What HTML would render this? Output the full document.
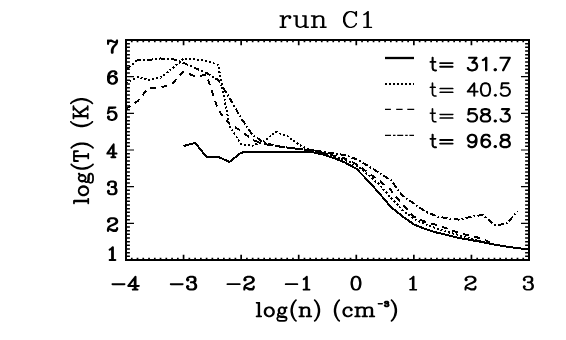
<!DOCTYPE html>
<html><head><meta charset="utf-8"><title>run C1</title>
<style>html,body{margin:0;padding:0;background:#fff;font-family:"Liberation Sans",sans-serif;}svg{display:block}</style>
</head><body>
<svg width="566" height="340" viewBox="0 0 566 340">
<rect x="0" y="0" width="566" height="340" fill="#fff"/>
<path d="M126.00 260.00V254.80M126.00 40.00V45.20M131.76 260.00V257.70M131.76 40.00V42.30M137.51 260.00V257.70M137.51 40.00V42.30M143.27 260.00V257.70M143.27 40.00V42.30M149.03 260.00V257.70M149.03 40.00V42.30M154.79 260.00V257.70M154.79 40.00V42.30M160.54 260.00V257.70M160.54 40.00V42.30M166.30 260.00V257.70M166.30 40.00V42.30M172.06 260.00V257.70M172.06 40.00V42.30M177.81 260.00V257.70M177.81 40.00V42.30M183.57 260.00V254.80M183.57 40.00V45.20M189.33 260.00V257.70M189.33 40.00V42.30M195.09 260.00V257.70M195.09 40.00V42.30M200.84 260.00V257.70M200.84 40.00V42.30M206.60 260.00V257.70M206.60 40.00V42.30M212.36 260.00V257.70M212.36 40.00V42.30M218.11 260.00V257.70M218.11 40.00V42.30M223.87 260.00V257.70M223.87 40.00V42.30M229.63 260.00V257.70M229.63 40.00V42.30M235.39 260.00V257.70M235.39 40.00V42.30M241.14 260.00V254.80M241.14 40.00V45.20M246.90 260.00V257.70M246.90 40.00V42.30M252.66 260.00V257.70M252.66 40.00V42.30M258.41 260.00V257.70M258.41 40.00V42.30M264.17 260.00V257.70M264.17 40.00V42.30M269.93 260.00V257.70M269.93 40.00V42.30M275.69 260.00V257.70M275.69 40.00V42.30M281.44 260.00V257.70M281.44 40.00V42.30M287.20 260.00V257.70M287.20 40.00V42.30M292.96 260.00V257.70M292.96 40.00V42.30M298.71 260.00V254.80M298.71 40.00V45.20M304.47 260.00V257.70M304.47 40.00V42.30M310.23 260.00V257.70M310.23 40.00V42.30M315.99 260.00V257.70M315.99 40.00V42.30M321.74 260.00V257.70M321.74 40.00V42.30M327.50 260.00V257.70M327.50 40.00V42.30M333.26 260.00V257.70M333.26 40.00V42.30M339.01 260.00V257.70M339.01 40.00V42.30M344.77 260.00V257.70M344.77 40.00V42.30M350.53 260.00V257.70M350.53 40.00V42.30M356.29 260.00V254.80M356.29 40.00V45.20M362.04 260.00V257.70M362.04 40.00V42.30M367.80 260.00V257.70M367.80 40.00V42.30M373.56 260.00V257.70M373.56 40.00V42.30M379.31 260.00V257.70M379.31 40.00V42.30M385.07 260.00V257.70M385.07 40.00V42.30M390.83 260.00V257.70M390.83 40.00V42.30M396.59 260.00V257.70M396.59 40.00V42.30M402.34 260.00V257.70M402.34 40.00V42.30M408.10 260.00V257.70M408.10 40.00V42.30M413.86 260.00V254.80M413.86 40.00V45.20M419.61 260.00V257.70M419.61 40.00V42.30M425.37 260.00V257.70M425.37 40.00V42.30M431.13 260.00V257.70M431.13 40.00V42.30M436.89 260.00V257.70M436.89 40.00V42.30M442.64 260.00V257.70M442.64 40.00V42.30M448.40 260.00V257.70M448.40 40.00V42.30M454.16 260.00V257.70M454.16 40.00V42.30M459.91 260.00V257.70M459.91 40.00V42.30M465.67 260.00V257.70M465.67 40.00V42.30M471.43 260.00V254.80M471.43 40.00V45.20M477.19 260.00V257.70M477.19 40.00V42.30M482.94 260.00V257.70M482.94 40.00V42.30M488.70 260.00V257.70M488.70 40.00V42.30M494.46 260.00V257.70M494.46 40.00V42.30M500.21 260.00V257.70M500.21 40.00V42.30M505.97 260.00V257.70M505.97 40.00V42.30M511.73 260.00V257.70M511.73 40.00V42.30M517.49 260.00V257.70M517.49 40.00V42.30M523.24 260.00V257.70M523.24 40.00V42.30M529.00 260.00V254.80M529.00 40.00V45.20" stroke="#000" stroke-width="1.7" fill="none"/>
<path d="M126.00 256.33H129.90M529.00 256.33H525.10M126.00 252.67H129.90M529.00 252.67H525.10M126.00 249.00H129.90M529.00 249.00H525.10M126.00 245.33H129.90M529.00 245.33H525.10M126.00 241.67H129.90M529.00 241.67H525.10M126.00 238.00H129.90M529.00 238.00H525.10M126.00 234.33H129.90M529.00 234.33H525.10M126.00 230.67H129.90M529.00 230.67H525.10M126.00 227.00H129.90M529.00 227.00H525.10M126.00 219.67H129.90M529.00 219.67H525.10M126.00 216.00H129.90M529.00 216.00H525.10M126.00 212.33H129.90M529.00 212.33H525.10M126.00 208.67H129.90M529.00 208.67H525.10M126.00 205.00H129.90M529.00 205.00H525.10M126.00 201.33H129.90M529.00 201.33H525.10M126.00 197.67H129.90M529.00 197.67H525.10M126.00 194.00H129.90M529.00 194.00H525.10M126.00 190.33H129.90M529.00 190.33H525.10M126.00 183.00H129.90M529.00 183.00H525.10M126.00 179.33H129.90M529.00 179.33H525.10M126.00 175.67H129.90M529.00 175.67H525.10M126.00 172.00H129.90M529.00 172.00H525.10M126.00 168.33H129.90M529.00 168.33H525.10M126.00 164.67H129.90M529.00 164.67H525.10M126.00 161.00H129.90M529.00 161.00H525.10M126.00 157.33H129.90M529.00 157.33H525.10M126.00 153.67H129.90M529.00 153.67H525.10M126.00 146.33H129.90M529.00 146.33H525.10M126.00 142.67H129.90M529.00 142.67H525.10M126.00 139.00H129.90M529.00 139.00H525.10M126.00 135.33H129.90M529.00 135.33H525.10M126.00 131.67H129.90M529.00 131.67H525.10M126.00 128.00H129.90M529.00 128.00H525.10M126.00 124.33H129.90M529.00 124.33H525.10M126.00 120.67H129.90M529.00 120.67H525.10M126.00 117.00H129.90M529.00 117.00H525.10M126.00 109.67H129.90M529.00 109.67H525.10M126.00 106.00H129.90M529.00 106.00H525.10M126.00 102.33H129.90M529.00 102.33H525.10M126.00 98.67H129.90M529.00 98.67H525.10M126.00 95.00H129.90M529.00 95.00H525.10M126.00 91.33H129.90M529.00 91.33H525.10M126.00 87.67H129.90M529.00 87.67H525.10M126.00 84.00H129.90M529.00 84.00H525.10M126.00 80.33H129.90M529.00 80.33H525.10M126.00 73.00H129.90M529.00 73.00H525.10M126.00 69.33H129.90M529.00 69.33H525.10M126.00 65.67H129.90M529.00 65.67H525.10M126.00 62.00H129.90M529.00 62.00H525.10M126.00 58.33H129.90M529.00 58.33H525.10M126.00 54.67H129.90M529.00 54.67H525.10M126.00 51.00H129.90M529.00 51.00H525.10M126.00 47.33H129.90M529.00 47.33H525.10M126.00 43.67H129.90M529.00 43.67H525.10" stroke="#000" stroke-width="1.45" fill="none"/>
<path d="M126.00 260.00H134.00M529.00 260.00H521.00M126.00 223.33H134.00M529.00 223.33H521.00M126.00 186.67H134.00M529.00 186.67H521.00M126.00 150.00H134.00M529.00 150.00H521.00M126.00 113.33H134.00M529.00 113.33H521.00M126.00 76.67H134.00M529.00 76.67H521.00M126.00 40.00H134.00M529.00 40.00H521.00" stroke="#000" stroke-width="1.1" fill="none"/>
<rect x="126.00" y="40.00" width="403.00" height="220.00" fill="none" stroke="#000" stroke-width="2.00"/>
<path d="M183.6 146.0L195.1 142.9L206.6 156.9L218.1 156.9L229.6 161.9L241.1 152.6L252.7 151.8L264.2 151.7L275.7 151.7L287.2 151.7L298.7 151.7L310.2 151.7L321.7 154.2L333.3 157.8L344.8 162.5L356.3 168.6L367.8 180.5L379.3 193.3L390.8 206.9L402.3 216.2L413.9 224.4L425.4 229.1L436.9 232.6L448.4 235.4L459.9 238.2L471.4 240.1L482.9 242.3L494.5 244.6L506.0 246.5L517.5 248.1L529.0 249.6" fill="none" stroke="#000" stroke-width="2.00" stroke-linejoin="round" shape-rendering="crispEdges"/>
<path d="M126.0 83.0L137.5 77.2L149.0 79.9L160.5 77.5L172.1 68.8L183.6 58.6L195.1 59.3L206.6 60.9L218.1 64.8L229.6 126.6L241.1 144.1L252.7 145.6L264.2 141.0L275.7 131.9L287.2 136.0L298.7 144.6L310.2 150.2L321.7 152.8L333.3 156.2L344.8 159.8L356.3 165.2L367.8 174.5L379.3 184.5L390.8 197.7L402.3 209.9L413.9 218.9L425.4 224.4L436.9 228.5L448.4 232.2L459.9 235.4L471.4 238.7L482.9 241.7L494.5 244.6" fill="none" stroke="#000" stroke-width="2.00" stroke-linejoin="round" shape-rendering="crispEdges" stroke-dasharray="2 2"/>
<path d="M126.0 109.0L137.5 101.2L149.0 87.5L160.5 87.7L172.1 83.7L183.6 71.6L195.1 76.4L206.6 75.0L218.1 110.0L229.6 124.2L241.1 130.8L252.7 140.0L264.2 144.0L275.7 146.0L287.2 147.5L298.7 149.0L310.2 150.3L321.7 152.5L333.3 155.6L344.8 158.6L356.3 164.0L367.8 172.5L379.3 180.6L390.8 190.0L402.3 204.5L413.9 216.6L425.4 222.0L436.9 225.0L448.4 229.0L459.9 233.3L471.4 235.9L482.9 239.0L494.5 244.5" fill="none" stroke="#000" stroke-width="2.00" stroke-linejoin="round" shape-rendering="crispEdges" stroke-dasharray="6 5.3" stroke-dashoffset="0.8"/>
<path d="M126.0 70.0L137.5 60.1L149.0 59.9L160.5 58.5L172.1 58.9L183.6 63.0L195.1 68.0L206.6 73.1L218.1 79.9L229.6 98.0L241.1 118.2L252.7 135.0L264.2 142.6L275.7 146.1L287.2 147.6L298.7 149.0L310.2 150.0L321.7 151.6L333.3 153.3L344.8 155.1L356.3 159.2L367.8 165.7L379.3 173.0L390.8 180.2L402.3 195.4L413.9 203.5L425.4 211.6L436.9 216.4L448.4 218.5L459.9 219.7L471.4 216.7L482.9 214.9L494.5 225.0L506.0 224.1L517.5 211.5" fill="none" stroke="#000" stroke-width="2.00" stroke-linejoin="round" shape-rendering="crispEdges" stroke-dasharray="6 2.2 1.8 2.2"/>
<path d="M385.0 58H414.0" stroke="#000" stroke-width="2.3"/>
<path d="M385.0 84H414.0" stroke="#000" stroke-width="2" stroke-dasharray="2 2"/>
<path d="M385 109.4H390.9M396.2 109.4H402.6M407.3 109.4H414.2" stroke="#000" stroke-width="1.3"/>
<path d="M385.0 135.4H414.0" stroke="#000" stroke-width="1.4" stroke-dasharray="6 2 2.5 1.7"/>
<path d="M310.89 15.54L310.75 15.94L310.89 16.35L311.09 16.55L311.50 16.69L313.13 16.69L313.20 16.75L313.20 26.35L313.13 26.41L311.50 26.41L311.09 26.55L310.89 26.75L310.75 27.16L310.89 27.56L311.09 27.76L311.50 27.90L317.14 27.90L317.55 27.76L317.76 27.56L317.89 27.16L317.76 26.75L317.55 26.55L317.14 26.41L315.58 26.41L315.51 26.35L315.51 18.71L316.74 17.43L318.91 16.69L320.20 16.69L321.29 17.23L321.50 17.43L322.04 18.51L322.04 26.35L321.97 26.41L320.41 26.41L320.00 26.55L319.80 26.75L319.66 27.16L319.80 27.56L320.00 27.76L320.41 27.90L326.05 27.90L326.46 27.76L326.66 27.56L326.80 27.16L326.66 26.75L326.46 26.55L326.05 26.41L324.42 26.41L324.35 26.35L324.35 18.38L324.28 18.31L324.28 17.97L323.54 16.48L323.20 16.15L322.99 16.01L320.75 15.27L320.48 15.27L320.41 15.20L318.78 15.20L318.71 15.27L318.44 15.27L316.19 16.01L315.92 16.15L315.58 16.48L315.51 16.42L315.51 15.94L315.38 15.54L315.17 15.34L314.76 15.20L311.50 15.20L311.09 15.34ZM293.21 15.54L293.07 15.94L293.21 16.35L293.41 16.55L293.82 16.69L295.38 16.69L295.45 16.75L295.45 24.72L295.52 24.79L295.52 25.00L296.27 26.41L296.33 26.68L296.81 27.09L299.05 27.83L299.39 27.83L299.46 27.90L301.09 27.90L301.16 27.83L301.43 27.83L303.54 27.09L303.75 27.09L303.81 26.95L304.02 26.89L304.29 26.62L304.36 26.68L304.36 27.16L304.49 27.56L304.70 27.76L305.11 27.90L308.30 27.90L308.71 27.76L308.91 27.56L309.05 27.16L308.91 26.75L308.71 26.55L308.30 26.41L306.74 26.41L306.67 26.35L306.67 15.94L306.53 15.54L306.33 15.34L305.92 15.20L302.66 15.20L302.25 15.34L301.98 15.67L301.98 15.88L301.91 15.94L301.98 16.01L301.98 16.21L302.05 16.35L302.39 16.62L302.59 16.62L302.66 16.69L304.29 16.69L304.36 16.75L304.36 24.45L303.00 25.74L301.03 26.41L299.60 26.41L298.51 25.87L298.31 25.67L297.76 24.59L297.76 15.94L297.63 15.54L297.42 15.34L297.01 15.20L293.82 15.20L293.41 15.34ZM279.88 15.27L279.54 15.54L279.40 15.94L279.54 16.35L279.74 16.55L280.15 16.69L281.71 16.69L281.78 16.75L281.78 26.35L281.71 26.41L280.15 26.41L280.08 26.48L279.88 26.48L279.74 26.55L279.47 26.89L279.47 27.09L279.40 27.16L279.47 27.22L279.47 27.43L279.74 27.76L280.15 27.90L285.79 27.90L285.86 27.83L286.06 27.83L286.40 27.56L286.54 27.16L286.40 26.75L286.20 26.55L285.79 26.41L284.16 26.41L284.09 26.35L284.09 20.81L284.70 18.98L285.45 18.17L285.45 18.10L286.27 17.29L287.49 16.69L288.65 16.69L288.72 16.75L288.44 17.02L288.24 17.56L288.44 18.10L289.26 18.92L289.80 19.12L289.87 19.05L290.08 19.05L290.35 18.92L291.30 17.83L291.30 17.63L291.37 17.56L291.37 16.75L291.30 16.69L291.30 16.48L291.10 16.15L290.35 15.40L290.08 15.27L289.87 15.27L289.80 15.20L287.36 15.20L287.29 15.27L287.02 15.27L285.45 16.08L284.16 17.29L284.09 17.23L284.09 15.94L284.02 15.88L284.02 15.67L283.96 15.54L283.62 15.27L283.41 15.27L283.34 15.20L280.15 15.20L280.08 15.27ZM368.09 10.90L367.66 11.03L365.11 13.31L363.62 13.95L363.27 14.26L363.13 14.64L363.27 15.03L363.48 15.22L363.91 15.34L363.98 15.28L364.26 15.28L365.82 14.58L366.39 14.14L366.46 14.20L366.46 26.64L366.39 26.70L363.91 26.70L363.48 26.83L363.20 27.15L363.20 27.34L363.13 27.40L363.20 27.47L363.20 27.66L363.48 27.97L363.91 28.10L371.42 28.10L371.85 27.97L372.06 27.78L372.20 27.40L372.06 27.02L371.70 26.77L371.49 26.77L371.42 26.70L368.94 26.70L368.87 26.64L368.87 11.60L368.73 11.22L368.51 11.03ZM356.61 10.96L356.40 10.96L356.32 10.90L356.25 10.96L356.04 10.96L355.69 11.22L355.26 12.36L355.12 12.55L354.27 11.79L351.65 10.96L351.36 10.96L351.29 10.90L349.59 10.90L349.52 10.96L349.24 10.96L346.90 11.66L346.76 11.79L346.54 11.85L344.84 13.38L343.92 14.96L343.92 15.09L343.78 15.28L343.00 17.37L343.07 17.50L343.00 17.63L343.00 21.37L343.07 21.44L343.00 21.69L343.78 23.78L344.84 25.62L346.54 27.15L346.76 27.21L346.83 27.34L349.17 28.04L349.52 28.04L349.59 28.10L351.29 28.10L351.36 28.04L351.72 28.04L354.06 27.34L354.27 27.21L356.25 25.37L357.03 23.97L357.03 23.72L357.10 23.66L356.96 23.28L356.75 23.09L356.32 22.96L355.90 23.09L355.62 23.34L354.91 24.67L353.35 26.07L351.29 26.70L349.80 26.70L348.39 26.07L346.90 24.74L346.12 23.34L345.55 21.69L345.34 21.31L345.34 17.75L346.12 15.66L346.83 14.39L348.46 12.93L349.87 12.30L351.22 12.30L351.65 12.49L353.42 12.99L354.84 14.26L355.54 16.29L355.90 16.68L356.32 16.80L356.75 16.68L356.96 16.49L357.10 16.10L357.10 11.60L356.96 11.22ZM107.74 39.46L107.47 39.58L107.20 39.83L107.00 40.38L107.00 43.92L107.20 44.47L107.47 44.72L108.07 44.90L108.67 44.72L108.94 44.47L109.14 43.92L109.14 42.94L109.47 42.33L110.21 41.97L111.15 41.97L111.35 42.09L111.48 42.09L111.68 42.21L111.81 42.21L112.02 42.33L112.15 42.33L112.35 42.46L112.48 42.46L114.02 43.07L114.42 43.07L114.49 43.13L115.49 43.13L115.56 43.19L115.49 43.37L112.42 46.18L112.35 46.37L112.22 46.43L111.61 47.53L111.61 47.65L111.48 47.77L110.88 49.42L110.88 49.73L110.81 49.79L110.81 52.72L110.88 52.78L110.88 53.03L111.01 53.27L111.28 53.52L111.55 53.64L111.81 53.64L111.88 53.70L111.95 53.64L112.48 53.64L112.55 53.70L112.62 53.64L112.88 53.64L113.15 53.52L113.42 53.27L113.55 53.03L113.55 52.78L113.62 52.72L113.62 49.91L113.69 49.85L113.69 49.67L114.09 48.57L114.76 47.34L117.10 44.72L117.43 44.23L118.03 42.58L118.03 42.21L118.10 42.15L118.10 40.38L118.03 40.32L118.03 40.07L117.90 39.83L117.63 39.58L117.03 39.40L116.96 39.46L116.70 39.46L116.43 39.58L116.16 39.83L115.56 40.93L115.29 41.17L114.76 41.17L111.61 39.46L111.35 39.46L111.28 39.40L110.01 39.40L109.41 39.58L109.01 39.89L108.67 39.58L108.40 39.46L108.14 39.46L108.07 39.40L108.00 39.46ZM114.49 70.20L112.55 70.20L112.48 70.26L112.15 70.26L110.34 70.82L110.21 70.94L110.01 71.01L108.34 72.62L107.67 73.86L107.67 74.04L107.60 74.10L107.60 74.29L107.53 74.35L107.53 74.54L107.47 74.60L107.47 74.79L107.40 74.85L107.40 75.03L107.33 75.10L107.33 75.28L107.27 75.34L107.27 75.53L107.20 75.59L107.20 75.78L107.00 76.33L107.07 76.40L107.00 76.58L107.00 80.11L107.07 80.18L107.07 80.55L107.67 82.22L107.94 82.66L109.21 83.83L109.27 83.77L109.41 83.89L109.61 83.96L109.67 84.08L111.48 84.64L111.81 84.64L111.88 84.70L113.22 84.70L113.29 84.64L113.69 84.64L115.29 84.14L115.83 83.77L115.89 83.83L117.30 82.47L118.03 80.55L118.03 80.18L118.10 80.11L118.03 79.12L117.43 77.45L117.16 77.02L115.89 75.84L115.83 75.90L115.69 75.78L115.49 75.71L115.43 75.59L113.62 75.03L113.29 75.03L113.22 74.97L112.15 75.03L110.34 75.59L110.21 75.71L110.08 75.65L110.08 75.47L110.14 75.41L110.34 74.54L110.81 73.67L111.88 72.62L112.82 72.18L114.22 72.18L114.76 72.49L114.36 72.86L114.09 73.30L114.09 73.55L114.02 73.61L114.09 73.67L114.09 73.92L114.22 74.17L115.02 74.91L115.43 75.10L115.69 75.10L115.76 75.16L115.83 75.10L116.09 75.10L116.50 74.91L117.30 74.17L117.50 73.61L117.50 72.99L117.43 72.93L117.43 72.68L116.63 71.25L116.16 70.88L114.82 70.26L114.56 70.26ZM112.88 76.95L113.82 77.39L114.82 78.32L115.36 79.74L115.36 79.93L114.82 81.42L113.89 82.28L112.95 82.72L112.08 82.72L111.28 82.35L110.28 81.42L109.74 79.93L109.74 79.74L110.28 78.32L111.28 77.39L112.68 76.95ZM110.01 75.71L110.08 75.65L110.14 75.71L110.08 75.78ZM108.83 106.46L108.58 106.59L108.32 106.83L108.12 107.21L108.12 107.45L108.06 107.52L108.06 107.76L108.00 107.83L108.00 108.07L107.93 108.14L107.93 108.38L107.87 108.44L107.87 108.69L107.80 108.75L107.80 109.00L107.74 109.06L107.74 109.31L107.67 109.37L107.67 109.62L107.61 109.68L107.61 109.93L107.54 109.99L107.54 110.24L107.48 110.30L107.48 110.55L107.42 110.61L107.42 110.86L107.35 110.92L107.35 111.17L107.29 111.23L107.29 111.48L107.22 111.54L107.22 111.79L107.16 111.85L107.16 112.10L107.09 112.16L107.09 112.41L107.03 112.47L107.03 112.72L106.90 113.09L106.96 113.22L106.90 113.34L106.96 113.40L106.96 113.65L107.09 113.90L107.35 114.15L107.61 114.27L107.87 114.27L107.93 114.33L108.00 114.27L108.25 114.27L108.64 114.08L109.74 113.03L111.03 112.60L112.70 112.60L113.35 112.91L114.51 114.02L114.96 115.32L114.96 116.13L114.44 117.62L113.54 118.48L112.64 118.92L111.09 118.92L109.93 118.55L109.41 118.11L109.99 117.49L110.12 117.24L110.12 117.00L110.19 116.93L110.12 116.87L110.12 116.62L109.87 116.19L109.28 115.63L108.83 115.39L108.58 115.39L108.51 115.32L108.45 115.39L108.19 115.39L107.93 115.51L107.16 116.25L106.96 116.62L106.96 116.87L106.90 116.93L106.90 117.55L107.03 117.93L106.96 117.99L107.67 119.29L108.45 120.03L108.77 120.16L108.83 120.28L110.57 120.84L110.96 120.84L111.03 120.90L112.89 120.90L112.96 120.84L113.35 120.84L114.89 120.34L115.41 119.97L115.47 120.03L116.70 118.86L116.96 118.42L117.54 116.75L117.54 116.38L117.60 116.31L117.60 115.14L117.54 115.08L117.54 114.70L116.83 112.78L115.28 111.36L115.09 111.30L114.96 111.17L113.22 110.61L113.15 110.68L112.96 110.68L112.89 110.61L111.03 110.61L110.96 110.68L110.77 110.68L110.70 110.61L109.67 110.99L109.54 110.99L109.48 110.80L109.54 110.74L109.54 110.49L109.61 110.43L109.80 109.25L109.93 109.00L112.25 109.00L112.31 108.94L112.44 109.00L112.51 108.94L112.77 108.94L112.83 108.88L113.09 108.88L113.15 108.82L113.41 108.82L113.47 108.75L113.73 108.75L113.80 108.69L114.05 108.69L114.12 108.63L115.34 108.44L115.92 108.20L116.18 107.95L116.38 107.39L116.31 107.33L116.31 107.08L116.18 106.83L115.92 106.59L115.34 106.40L109.16 106.40L109.09 106.46ZM113.65 143.30L113.10 143.49L112.74 143.88L112.44 144.39L111.90 145.09L111.78 145.35L111.24 146.06L111.12 146.31L110.58 147.02L110.45 147.27L109.91 147.98L109.79 148.24L109.25 148.94L109.13 149.20L108.59 149.90L108.47 150.16L107.93 150.86L107.81 151.12L107.26 151.83L107.14 152.08L106.60 152.79L106.36 153.24L106.36 153.49L106.30 153.56L106.48 154.13L106.72 154.39L107.26 154.58L112.02 154.58L112.08 154.65L112.08 156.18L112.02 156.25L111.30 156.25L111.24 156.31L111.00 156.31L110.76 156.44L110.52 156.70L110.39 156.95L110.39 157.21L110.33 157.27L110.52 157.85L110.76 158.11L111.30 158.30L115.39 158.30L115.93 158.11L116.18 157.85L116.30 157.59L116.30 157.34L116.36 157.27L116.30 157.21L116.30 156.95L116.18 156.70L115.93 156.44L115.69 156.31L115.45 156.31L115.39 156.25L114.67 156.25L114.61 156.18L114.61 154.65L114.67 154.58L116.54 154.58L116.60 154.52L116.84 154.52L117.08 154.39L117.32 154.13L117.50 153.56L117.32 152.98L117.08 152.72L116.84 152.59L116.60 152.59L116.54 152.53L114.67 152.53L114.61 152.47L114.61 144.33L114.43 143.75L114.19 143.49ZM112.02 148.43L112.08 148.49L112.08 152.47L112.02 152.53L109.31 152.53L109.25 152.47L109.67 151.89L109.79 151.63L110.33 150.93L110.45 150.67L111.00 149.97L111.12 149.71ZM110.60 180.56L108.88 181.13L108.75 181.26L108.56 181.32L107.79 182.02L107.60 182.27L106.96 183.54L107.03 183.60L106.90 183.98L106.90 184.55L106.96 184.61L106.96 184.86L107.22 185.24L107.16 185.31L107.73 185.88L108.18 186.13L108.43 186.13L108.50 186.19L108.56 186.13L108.82 186.13L109.26 185.88L109.84 185.31L110.09 184.86L110.09 184.61L110.16 184.55L110.09 184.48L110.09 184.23L109.84 183.79L109.39 183.35L109.65 183.03L111.18 182.52L113.16 182.52L113.80 182.84L113.99 183.03L114.24 183.54L114.24 184.99L113.99 185.50L113.80 185.69L113.16 186.00L111.56 186.00L111.50 186.07L111.24 186.07L110.99 186.19L110.73 186.45L110.54 187.01L110.73 187.58L110.99 187.84L111.24 187.96L111.50 187.96L111.56 188.03L113.22 188.03L113.99 188.41L114.37 188.79L114.88 190.24L114.88 191.57L114.43 192.45L113.99 192.90L113.22 193.28L111.05 193.28L109.90 192.90L109.39 192.45L109.97 191.82L110.09 191.57L110.09 191.32L110.16 191.25L110.09 191.19L110.09 190.94L109.84 190.49L109.26 189.92L108.82 189.67L108.56 189.67L108.50 189.61L107.92 189.80L107.16 190.56L106.96 190.94L106.96 191.19L106.90 191.25L106.90 191.88L107.03 192.26L106.96 192.33L107.67 193.66L108.43 194.41L108.75 194.54L108.82 194.67L110.54 195.24L110.92 195.24L110.99 195.30L113.41 195.30L113.48 195.24L113.86 195.24L115.58 194.67L115.65 194.54L115.97 194.41L116.73 193.66L117.44 192.33L117.37 192.26L117.50 191.88L117.50 190.05L117.37 189.67L117.44 189.61L116.80 188.34L115.78 187.27L116.22 186.76L116.86 185.50L116.86 185.24L116.93 185.18L116.93 183.35L116.86 183.28L116.86 183.03L116.10 181.58L115.84 181.32L115.46 181.13L113.73 180.56L113.48 180.56L113.41 180.50L110.99 180.50L110.92 180.56ZM109.01 217.83L108.87 217.96L108.67 218.02L107.85 218.72L107.65 218.97L106.97 220.24L107.04 220.30L106.90 220.68L106.90 221.25L106.97 221.31L106.97 221.56L107.24 221.94L107.17 222.01L107.99 222.70L108.60 222.89L108.67 222.83L108.94 222.83L109.42 222.58L110.03 222.01L110.30 221.56L110.30 221.31L110.37 221.25L110.30 221.18L110.30 220.93L110.03 220.49L109.55 220.05L109.83 219.73L111.46 219.22L113.57 219.22L114.52 219.67L114.93 220.05L115.41 220.93L115.41 221.63L115.07 222.26L114.80 222.51L113.16 223.52L109.49 225.17L107.72 226.75L106.97 228.71L106.97 229.09L106.90 229.15L106.90 230.99L106.97 231.05L106.97 231.30L107.10 231.56L107.38 231.81L107.99 232.00L108.06 231.94L108.33 231.94L108.60 231.81L108.87 231.56L109.01 231.30L109.01 231.05L109.08 230.99L109.08 230.23L109.15 230.17L109.62 230.17L109.76 230.29L109.96 230.36L110.10 230.48L110.30 230.55L110.44 230.67L110.64 230.74L110.78 230.86L110.98 230.92L112.62 231.87L112.69 231.81L112.89 231.94L113.16 231.94L113.23 232.00L115.82 232.00L115.89 231.94L116.16 231.94L116.63 231.68L117.25 231.11L117.45 230.86L118.13 229.60L118.06 229.53L118.20 229.15L118.20 227.95L118.00 227.38L117.72 227.13L117.11 226.94L116.50 227.13L116.23 227.38L116.09 227.64L116.09 227.89L116.02 227.95L116.02 228.77L115.68 229.03L115.00 229.34L113.30 229.34L113.09 229.22L112.96 229.22L112.75 229.09L112.62 229.09L112.41 228.96L112.28 228.96L112.07 228.84L111.94 228.84L110.37 228.21L109.55 228.14L109.49 228.08L109.55 227.95L110.64 226.94L112.01 226.31L112.14 226.31L112.35 226.18L112.48 226.18L112.69 226.05L112.82 226.05L113.03 225.93L113.16 225.93L113.37 225.80L113.50 225.80L113.71 225.68L113.84 225.68L114.05 225.55L114.86 225.30L115.07 225.11L115.14 225.17L116.97 224.03L117.52 223.46L118.13 222.32L118.06 222.26L118.20 221.88L118.20 220.68L118.06 220.30L118.13 220.24L117.45 218.97L117.25 218.72L116.43 218.02L116.02 217.83L114.18 217.26L113.91 217.26L113.84 217.20L111.26 217.20L111.19 217.26L110.85 217.26ZM113.16 246.26L112.90 246.26L112.83 246.20L112.76 246.26L112.50 246.26L112.04 246.52L110.25 248.22L109.13 248.73L109.19 248.79L108.80 249.11L108.67 249.36L108.67 249.62L108.60 249.68L108.67 249.74L108.67 249.99L108.80 250.25L109.06 250.50L109.33 250.63L109.59 250.63L109.66 250.69L109.72 250.63L109.99 250.63L111.05 250.12L111.11 250.18L111.11 258.91L111.05 258.98L109.66 258.98L109.59 259.04L109.33 259.04L109.06 259.17L108.80 259.42L108.60 259.99L108.67 260.05L108.67 260.30L108.80 260.56L109.06 260.81L109.33 260.94L109.59 260.94L109.66 261.00L115.34 261.00L115.94 260.81L116.20 260.56L116.33 260.30L116.33 260.05L116.40 259.99L116.33 259.92L116.33 259.67L116.20 259.42L115.94 259.17L115.34 258.98L113.95 258.98L113.89 258.91L113.89 247.21L113.69 246.64L113.43 246.39ZM111.50 284.15L111.70 284.72L111.98 284.97L112.59 285.16L124.36 285.16L124.97 284.97L125.24 284.72L125.45 284.15L125.24 283.58L124.97 283.33L124.36 283.14L112.59 283.14L111.98 283.33L111.70 283.58ZM135.45 275.80L134.83 275.99L134.56 276.24L134.43 276.50L133.81 277.19L133.68 277.44L133.07 278.14L132.93 278.39L132.32 279.09L132.18 279.34L131.57 280.04L131.43 280.29L130.82 280.99L130.68 281.24L127.49 285.22L127.28 285.60L127.28 285.86L127.21 285.92L127.42 286.49L127.69 286.74L128.30 286.93L133.68 286.93L133.75 286.99L133.75 288.51L133.68 288.58L132.86 288.58L132.79 288.64L132.52 288.64L132.25 288.77L131.98 289.02L131.84 289.27L131.84 289.52L131.77 289.59L131.98 290.16L132.25 290.41L132.86 290.60L137.42 290.60L138.03 290.41L138.30 290.16L138.44 289.90L138.44 289.65L138.51 289.59L138.44 289.52L138.44 289.27L138.30 289.02L138.03 288.77L137.76 288.64L137.49 288.64L137.42 288.58L136.60 288.58L136.53 288.51L136.53 286.99L136.60 286.93L138.71 286.93L138.78 286.87L139.05 286.87L139.32 286.74L139.60 286.49L139.80 285.92L139.60 285.35L139.32 285.10L139.05 284.97L138.78 284.97L138.71 284.91L136.60 284.91L136.53 284.84L136.53 276.81L136.33 276.24L136.06 275.99ZM133.68 280.86L133.75 280.92L133.75 284.84L133.68 284.91L130.62 284.91L130.55 284.78ZM169.80 284.15L170.00 284.72L170.27 284.97L170.88 285.16L182.52 285.16L183.13 284.97L183.40 284.72L183.60 284.15L183.40 283.58L183.13 283.33L182.52 283.14L170.88 283.14L170.27 283.33L170.00 283.58ZM189.93 275.86L188.11 276.43L187.57 276.75L186.97 277.32L186.70 277.63L186.02 278.96L186.02 279.22L185.96 279.28L185.96 279.85L186.02 279.91L186.02 280.16L186.29 280.61L186.90 281.18L187.37 281.43L187.64 281.43L187.71 281.49L187.77 281.43L188.04 281.43L188.52 281.18L189.12 280.61L189.39 280.16L189.39 279.91L189.46 279.85L189.39 279.78L189.39 279.53L189.26 279.28L188.58 278.65L188.92 278.33L190.54 277.82L192.62 277.82L193.30 278.14L193.43 278.27L193.77 278.90L193.77 280.23L193.43 280.86L193.30 280.99L192.62 281.30L190.94 281.30L190.87 281.37L190.60 281.37L190.33 281.49L190.06 281.75L189.86 282.31L190.06 282.88L190.33 283.14L190.60 283.26L190.87 283.26L190.94 283.33L192.69 283.33L193.50 283.71L193.90 284.09L194.37 285.41L194.37 286.93L193.97 287.69L193.36 288.26L192.69 288.58L190.40 288.58L188.99 288.13L188.58 287.75L189.26 287.12L189.46 286.55L189.39 286.49L189.39 286.24L189.26 285.98L188.31 285.10L187.71 284.91L187.10 285.10L186.16 285.98L185.96 286.55L185.96 287.18L186.02 287.25L186.02 287.50L186.83 288.96L187.57 289.71L187.64 289.65L187.77 289.78L187.98 289.84L188.04 289.97L189.86 290.54L190.20 290.54L190.27 290.60L192.89 290.60L192.96 290.54L193.36 290.54L195.18 289.97L195.25 289.84L195.58 289.71L196.26 289.08L196.32 288.89L196.46 288.83L197.13 287.50L197.13 287.25L197.20 287.18L197.20 285.35L197.13 285.29L197.07 284.78L196.46 283.64L196.39 283.71L196.19 283.45L196.26 283.39L195.31 282.57L195.45 282.50L195.85 282.06L196.46 280.92L196.39 280.86L196.53 280.48L196.53 278.65L196.39 278.27L196.46 278.20L196.26 277.95L195.72 276.88L195.45 276.62L195.05 276.43L193.23 275.86L192.96 275.86L192.89 275.80L190.27 275.80L190.20 275.86ZM226.50 284.16L226.71 284.73L226.92 284.92L227.55 285.11L239.64 285.11L240.27 284.92L240.48 284.73L240.68 284.16L240.48 283.58L240.27 283.39L239.64 283.20L227.55 283.20L226.92 283.39L226.71 283.58ZM245.44 276.44L245.30 276.57L244.95 276.69L244.25 277.33L243.34 278.93L243.34 279.18L243.27 279.24L243.27 279.82L243.34 279.88L243.34 280.14L243.48 280.39L244.25 281.16L244.67 281.35L244.95 281.35L245.02 281.41L245.09 281.35L245.37 281.35L245.93 281.03L245.93 280.97L246.55 280.39L246.76 279.82L246.55 279.24L245.86 278.61L246.41 278.16L247.88 277.71L250.12 277.71L250.96 278.10L251.66 278.73L251.80 278.99L251.80 279.12L252.00 279.44L252.00 280.27L251.66 280.90L251.38 281.16L249.70 282.18L245.93 283.84L244.18 285.37L243.97 285.75L243.34 287.47L243.34 287.73L243.27 287.79L243.27 289.64L243.34 289.71L243.34 289.96L243.48 290.22L243.69 290.41L243.97 290.54L244.25 290.54L244.32 290.60L244.39 290.54L244.67 290.54L244.95 290.41L245.16 290.22L245.30 289.96L245.30 289.71L245.37 289.64L245.37 288.88L245.51 288.75L246.07 288.75L246.21 288.88L246.41 288.94L246.55 289.07L246.76 289.13L249.00 290.41L249.35 290.54L249.63 290.54L249.70 290.60L252.42 290.60L252.49 290.54L252.77 290.54L253.05 290.41L253.82 289.71L253.89 289.52L254.03 289.45L254.73 288.11L254.73 287.86L254.80 287.79L254.80 286.58L254.73 286.52L254.73 286.26L254.59 286.01L254.38 285.82L253.75 285.62L253.12 285.82L252.91 286.01L252.77 286.26L252.77 286.52L252.70 286.58L252.70 287.41L252.49 287.60L251.52 288.05L249.84 288.05L248.72 287.60L248.58 287.60L248.37 287.47L248.23 287.47L248.02 287.35L247.88 287.35L247.67 287.22L247.53 287.22L247.32 287.09L247.18 287.09L246.97 286.96L246.41 286.90L246.34 286.84L245.93 286.84L245.86 286.64L245.93 286.52L247.04 285.50L248.30 284.92L248.44 284.92L248.65 284.79L248.79 284.79L249.00 284.67L249.14 284.67L249.35 284.54L249.49 284.54L249.70 284.41L249.84 284.41L250.05 284.28L250.19 284.28L250.40 284.16L251.24 283.90L251.59 283.65L251.66 283.71L253.68 282.50L253.89 282.18L254.03 282.12L254.73 280.78L254.73 280.52L254.80 280.46L254.80 279.24L254.73 279.18L254.66 278.73L254.03 277.59L253.89 277.52L253.82 277.33L253.05 276.63L252.63 276.44L250.75 275.86L250.47 275.86L250.40 275.80L247.67 275.80L247.60 275.86L247.32 275.86ZM284.80 284.16L285.00 284.73L285.20 284.92L285.79 285.11L297.27 285.11L297.87 284.92L298.06 284.73L298.26 284.16L298.06 283.58L297.87 283.39L297.27 283.20L285.79 283.20L285.20 283.39L285.00 283.58ZM307.15 275.86L306.88 275.86L306.82 275.80L306.22 275.99L304.43 277.78L303.17 278.35L303.17 278.42L302.84 278.67L302.71 278.93L302.71 279.18L302.64 279.24L302.71 279.31L302.71 279.56L302.84 279.82L303.04 280.01L303.30 280.14L303.57 280.14L303.64 280.20L303.70 280.14L303.97 280.14L305.16 279.56L305.23 279.63L305.23 288.62L305.16 288.69L303.64 288.69L303.57 288.75L303.30 288.75L303.04 288.88L302.84 289.07L302.64 289.64L302.71 289.71L302.71 289.96L302.84 290.22L303.04 290.41L303.30 290.54L303.57 290.54L303.64 290.60L309.41 290.60L310.00 290.41L310.20 290.22L310.33 289.96L310.33 289.71L310.40 289.64L310.33 289.58L310.33 289.32L310.20 289.07L310.00 288.88L309.41 288.69L307.88 288.69L307.81 288.62L307.81 276.76L307.61 276.18L307.42 275.99ZM355.31 275.80L355.24 275.86L354.97 275.86L353.11 276.45L352.49 276.97L351.19 278.85L351.12 279.31L351.05 279.37L351.05 279.63L350.98 279.69L350.98 279.95L350.91 280.02L350.91 280.28L350.84 280.34L350.84 280.60L350.77 280.67L350.77 280.93L350.71 280.99L350.71 281.25L350.64 281.32L350.64 281.58L350.57 281.64L350.57 281.90L350.50 281.97L350.57 282.16L350.50 282.29L350.50 284.17L350.57 284.24L350.50 284.43L350.57 284.50L350.57 284.76L350.64 284.82L350.64 285.08L350.71 285.15L350.71 285.41L350.77 285.47L350.77 285.73L350.84 285.80L350.84 286.06L350.91 286.12L350.91 286.38L350.98 286.45L350.98 286.71L351.05 286.77L351.19 287.61L352.15 288.91L352.49 289.50L352.91 289.76L353.04 289.95L354.90 290.54L355.24 290.54L355.31 290.60L356.69 290.60L356.76 290.54L357.10 290.54L358.96 289.95L359.09 289.76L359.51 289.50L359.85 288.91L360.81 287.61L360.95 286.77L361.02 286.71L361.02 286.45L361.09 286.38L361.09 286.12L361.16 286.06L361.16 285.80L361.23 285.73L361.23 285.47L361.29 285.41L361.29 285.15L361.36 285.08L361.36 284.82L361.43 284.76L361.43 284.50L361.50 284.43L361.43 284.24L361.50 284.17L361.50 282.29L361.43 282.23L361.50 281.97L361.43 281.90L361.43 281.64L361.36 281.58L361.36 281.32L361.29 281.25L361.29 280.99L361.23 280.93L361.23 280.67L361.16 280.60L361.16 280.34L361.09 280.28L361.09 280.02L361.02 279.95L361.02 279.69L360.95 279.63L360.95 279.37L360.88 279.31L360.81 278.85L359.51 276.97L358.89 276.45L357.03 275.86L356.76 275.86L356.69 275.80ZM355.59 277.49L356.41 277.49L357.38 277.94L357.99 278.53L358.48 279.50L358.61 280.34L358.68 280.41L358.68 280.67L358.75 280.73L358.75 280.99L358.82 281.06L358.82 281.32L358.89 281.38L358.89 281.64L358.96 281.71L358.96 281.97L359.02 282.03L359.02 282.29L359.09 282.36L359.09 284.04L359.02 284.11L359.02 284.37L358.96 284.43L358.96 284.69L358.89 284.76L358.89 285.02L358.82 285.08L358.82 285.34L358.75 285.41L358.75 285.67L358.68 285.73L358.48 286.96L357.93 288.00L357.44 288.46L356.48 288.91L355.52 288.91L354.56 288.46L354.07 288.00L353.52 286.96L353.52 286.71L353.46 286.64L353.46 286.38L353.39 286.32L353.39 286.06L353.32 285.99L353.32 285.73L353.25 285.67L353.25 285.41L353.18 285.34L353.18 285.08L353.11 285.02L353.11 284.76L353.04 284.69L353.04 284.43L352.91 284.04L352.91 282.36L352.98 282.29L352.98 282.03L353.04 281.97L353.04 281.71L353.11 281.64L353.11 281.38L353.18 281.32L353.18 281.06L353.25 280.99L353.25 280.73L353.32 280.67L353.32 280.41L353.39 280.34L353.52 279.50L354.01 278.53L354.62 277.94ZM413.91 275.86L413.63 275.86L413.56 275.80L413.49 275.86L413.20 275.86L413.06 275.99L412.84 276.06L410.77 277.94L409.70 278.40L409.70 278.46L409.56 278.53L409.27 278.85L409.27 279.11L409.20 279.18L409.27 279.24L409.27 279.50L409.41 279.69L409.77 279.95L410.06 279.95L410.13 280.02L410.20 279.95L410.49 279.95L410.63 279.82L411.77 279.31L411.91 279.37L411.91 288.85L411.84 288.91L410.13 288.91L410.06 288.98L409.77 288.98L409.56 289.11L409.27 289.43L409.27 289.69L409.20 289.76L409.27 289.82L409.27 290.08L409.41 290.28L409.77 290.54L410.06 290.54L410.13 290.60L416.27 290.60L416.34 290.54L416.63 290.54L416.84 290.41L417.13 290.08L417.13 289.82L417.20 289.76L417.13 289.69L417.13 289.43L416.99 289.24L416.63 288.98L416.34 288.98L416.27 288.91L414.56 288.91L414.49 288.85L414.49 276.64L414.41 276.58L414.41 276.32L414.27 276.12ZM466.68 276.45L466.30 276.64L465.48 277.29L464.57 278.79L464.57 279.11L464.50 279.18L464.50 279.76L464.57 279.82L464.57 280.08L464.73 280.21L464.80 280.41L465.77 281.19L466.07 281.19L466.15 281.25L466.23 281.19L466.52 281.19L466.68 281.06L466.90 280.99L467.57 280.41L467.65 280.21L467.80 280.08L467.80 279.82L467.88 279.76L467.80 279.69L467.80 279.44L466.90 278.59L467.05 278.33L467.43 278.01L469.23 277.49L471.62 277.49L472.82 278.01L473.35 278.46L473.88 279.37L473.88 280.15L473.35 281.06L471.62 282.10L468.70 283.33L468.55 283.46L466.90 284.17L465.40 285.47L465.25 285.67L464.50 287.61L464.57 287.68L464.50 287.87L464.50 289.76L464.57 289.82L464.57 290.08L464.73 290.28L465.10 290.54L465.40 290.54L465.48 290.60L465.55 290.54L465.85 290.54L466.07 290.41L466.38 290.08L466.38 289.82L466.45 289.76L466.45 288.85L466.60 288.72L467.35 288.72L469.15 289.69L469.38 289.76L469.52 289.89L469.75 289.95L469.90 290.08L470.12 290.15L470.27 290.28L470.50 290.34L470.65 290.47L470.88 290.54L471.18 290.54L471.25 290.60L474.10 290.60L474.18 290.54L474.48 290.54L474.62 290.41L474.85 290.34L475.52 289.76L476.43 288.26L476.43 287.94L476.50 287.87L476.50 286.64L476.43 286.58L476.43 286.32L476.27 286.12L475.90 285.86L475.60 285.86L475.52 285.80L475.45 285.86L475.15 285.86L474.77 286.12L474.62 286.32L474.62 286.58L474.55 286.64L474.55 287.55L474.18 287.87L473.27 288.26L471.25 288.26L471.02 288.13L470.88 288.13L470.65 288.00L470.50 288.00L468.77 287.35L468.40 287.29L468.02 287.09L467.73 287.09L467.65 287.03L466.90 287.03L466.82 286.96L467.05 286.45L468.25 285.41L469.30 284.95L469.45 284.95L469.68 284.82L469.82 284.82L470.05 284.69L470.20 284.69L470.43 284.56L470.57 284.56L470.80 284.43L470.95 284.43L471.18 284.30L471.32 284.30L471.55 284.17L471.70 284.17L471.93 284.04L472.82 283.78L473.12 283.59L473.27 283.59L475.30 282.42L475.75 281.97L476.43 280.80L476.43 280.47L476.50 280.41L476.50 279.18L476.43 279.11L476.43 278.79L475.52 277.29L474.70 276.64L474.32 276.45L472.30 275.86L472.00 275.86L471.93 275.80L469.07 275.80L469.00 275.86L468.70 275.86ZM526.68 275.86L524.67 276.51L523.70 277.29L522.87 278.79L522.87 279.11L522.80 279.18L522.80 279.76L522.87 279.82L522.87 280.08L523.01 280.21L523.08 280.41L523.98 281.19L524.26 281.19L524.33 281.25L524.40 281.19L524.67 281.19L524.81 281.06L525.02 280.99L525.64 280.41L525.71 280.21L525.85 280.08L525.85 279.82L525.92 279.76L525.85 279.69L525.85 279.44L525.02 278.59L525.16 278.33L525.51 278.01L527.17 277.49L529.39 277.49L530.22 277.88L530.43 278.07L530.78 278.72L530.78 280.21L530.36 280.99L529.46 281.45L527.66 281.45L527.59 281.51L527.31 281.51L526.96 281.77L526.82 281.97L526.82 282.23L526.75 282.29L526.82 282.36L526.82 282.62L526.96 282.81L527.31 283.07L527.59 283.07L527.66 283.14L529.53 283.14L530.36 283.52L530.92 284.04L531.47 285.54L531.47 287.03L530.92 288.07L530.43 288.46L529.46 288.91L527.10 288.91L525.64 288.46L525.09 288.00L525.02 287.87L525.85 286.96L525.85 286.71L525.92 286.64L525.85 286.58L525.85 286.32L525.71 286.19L525.64 285.99L525.02 285.41L524.81 285.34L524.67 285.21L524.40 285.21L524.33 285.15L524.26 285.21L523.98 285.21L523.77 285.34L523.08 285.99L523.01 286.19L522.87 286.32L522.87 286.58L522.80 286.64L522.80 287.29L522.87 287.35L522.87 287.61L523.63 289.04L524.40 289.76L524.53 289.76L524.74 289.95L526.62 290.54L526.96 290.54L527.03 290.60L529.67 290.60L529.74 290.54L530.08 290.54L531.96 289.95L532.17 289.76L532.30 289.76L533.07 289.04L533.83 287.61L533.83 287.35L533.90 287.29L533.90 285.41L533.83 285.34L533.83 285.02L533.00 283.52L531.96 282.55L531.96 282.49L532.24 282.29L532.44 282.03L532.51 282.03L533.21 280.73L533.21 280.47L533.28 280.41L533.28 278.53L533.21 278.46L533.21 278.20L532.51 276.90L532.44 276.90L532.24 276.64L531.89 276.45L530.01 275.86L529.74 275.86L529.67 275.80L527.03 275.80L526.96 275.86ZM298.66 306.78L298.52 306.97L298.52 307.24L298.45 307.30L298.52 307.37L298.52 307.63L298.79 307.96L298.99 308.09L299.26 308.09L299.33 308.16L300.34 308.16L300.41 308.22L300.41 315.50L300.34 315.57L299.33 315.57L299.26 315.63L298.99 315.63L298.79 315.77L298.52 316.09L298.52 316.36L298.45 316.42L298.52 316.49L298.52 316.75L298.79 317.08L298.99 317.21L299.26 317.21L299.33 317.27L303.97 317.27L304.04 317.21L304.31 317.21L304.65 316.95L304.78 316.75L304.78 316.49L304.85 316.42L304.78 316.36L304.78 316.09L304.51 315.77L304.31 315.63L304.04 315.63L303.97 315.57L302.90 315.57L302.83 315.50L302.83 309.66L303.77 308.68L305.39 308.16L306.47 308.16L307.27 308.55L307.41 308.68L307.81 309.53L307.81 315.50L307.74 315.57L306.67 315.57L306.60 315.63L306.33 315.63L306.13 315.77L305.86 316.09L305.86 316.36L305.79 316.42L305.86 316.49L305.86 316.75L305.99 316.95L306.33 317.21L306.60 317.21L306.67 317.27L311.31 317.27L311.38 317.21L311.65 317.21L311.99 316.95L312.12 316.75L312.12 316.49L312.19 316.42L312.12 316.36L312.12 316.09L311.85 315.77L311.65 315.63L311.38 315.63L311.31 315.57L310.30 315.57L310.24 315.50L310.24 309.27L310.17 309.21L310.17 308.94L309.49 307.63L309.23 307.30L308.89 307.11L307.07 306.52L306.73 306.52L306.67 306.45L305.32 306.45L305.25 306.52L304.92 306.52L303.10 307.11L302.83 307.30L302.76 307.24L302.76 306.97L302.63 306.78L302.29 306.52L302.02 306.52L301.95 306.45L299.33 306.45L299.26 306.52L298.99 306.52ZM280.88 306.52L279.53 307.17L279.53 307.24L279.40 307.30L278.52 308.22L278.46 308.22L277.85 309.40L277.78 309.86L277.72 309.93L277.72 311.24L277.78 311.30L277.78 311.57L277.92 311.70L278.19 312.22L278.19 312.35L277.78 312.81L277.78 312.94L277.65 313.08L277.11 314.13L277.11 314.39L277.04 314.45L277.04 315.11L277.11 315.17L277.11 315.44L277.58 316.29L277.38 316.42L277.11 316.75L276.44 318.06L276.44 318.32L276.37 318.39L276.37 319.04L276.44 319.11L276.44 319.37L276.57 319.50L277.11 320.55L277.11 320.68L277.38 321.01L277.58 321.14L279.60 321.80L279.74 321.73L279.94 321.80L283.98 321.80L284.18 321.73L284.25 321.80L286.27 321.14L286.47 321.01L286.74 320.68L287.41 319.37L287.41 319.11L287.48 319.04L287.41 318.00L286.74 316.68L286.67 316.68L286.60 316.55L286.20 316.22L284.38 315.63L284.04 315.63L283.98 315.57L280.68 315.57L279.06 315.04L278.79 314.78L278.79 314.65L279.26 313.80L279.47 313.80L279.60 313.99L280.81 314.58L281.22 314.58L281.28 314.65L282.63 314.65L282.70 314.58L283.04 314.58L284.25 313.99L284.45 313.80L284.58 313.80L285.26 313.14L285.19 313.08L285.26 312.94L285.46 312.81L286.06 311.63L286.06 311.30L286.13 311.24L286.13 309.93L286.06 309.86L286.06 309.47L285.73 308.88L285.80 308.81L286.60 308.81L286.67 308.75L286.94 308.75L287.28 308.48L287.41 308.29L287.41 308.02L287.48 307.96L287.48 307.30L287.41 307.24L287.41 306.97L287.14 306.65L286.94 306.52L286.67 306.52L286.60 306.45L286.54 306.52L286.20 306.52L284.58 307.37L284.25 307.11L283.04 306.52L282.70 306.52L282.63 306.45L281.28 306.45L281.22 306.52ZM278.12 318.59L278.59 317.73L279.33 317.54L280.21 317.86L280.54 317.86L280.61 317.93L283.84 317.93L285.46 318.45L285.73 318.72L285.73 318.91L285.32 319.64L283.91 320.09L279.87 320.09L278.66 319.70L278.46 319.50L278.12 318.85ZM281.49 308.16L282.43 308.16L283.24 308.55L283.71 309.40L283.71 311.76L283.37 312.42L283.17 312.62L282.50 312.94L281.42 312.94L280.61 312.55L280.14 311.70L280.14 309.47L280.54 308.68L280.68 308.55ZM268.56 306.45L268.49 306.52L268.22 306.52L266.27 307.17L266.14 307.30L265.93 307.37L264.65 308.61L264.59 308.81L264.39 309.01L263.78 310.78L263.78 311.17L263.71 311.24L263.71 312.49L263.78 312.55L263.78 312.94L264.39 314.72L265.93 316.36L266.41 316.62L268.22 317.21L268.49 317.21L268.56 317.27L269.91 317.27L269.97 317.21L270.31 317.21L272.26 316.55L273.95 314.98L274.15 314.65L274.75 312.88L274.75 312.55L274.82 312.49L274.82 311.24L274.75 311.17L274.75 310.85L274.08 308.94L272.46 307.30L272.13 307.11L270.31 306.52L269.97 306.52L269.91 306.45ZM268.76 308.16L269.70 308.16L270.78 308.68L271.86 309.73L272.40 311.30L272.40 312.42L271.86 313.99L270.78 315.04L269.70 315.57L268.76 315.57L267.82 315.11L266.67 313.99L266.14 312.49L266.14 311.24L266.67 309.73L267.82 308.61ZM256.24 301.99L256.04 302.12L255.77 302.45L255.77 302.71L255.70 302.78L255.77 302.84L255.77 303.10L255.90 303.30L256.24 303.56L256.51 303.56L256.58 303.63L257.65 303.63L257.72 303.70L257.72 315.50L257.65 315.57L256.58 315.57L256.51 315.63L256.24 315.63L256.04 315.77L255.77 316.09L255.77 316.36L255.70 316.42L255.77 316.49L255.77 316.75L256.04 317.08L256.24 317.21L256.51 317.21L256.58 317.27L261.22 317.27L261.29 317.21L261.56 317.21L261.76 317.08L262.03 316.75L262.03 316.49L262.10 316.42L262.03 316.36L262.03 316.09L261.89 315.90L261.56 315.63L261.29 315.63L261.22 315.57L260.21 315.57L260.14 315.50L260.14 302.78L260.08 302.71L260.08 302.45L259.81 302.12L259.61 301.99L259.34 301.99L259.27 301.92L256.58 301.92L256.51 301.99ZM314.68 299.30L314.61 299.37L314.34 299.37L314.01 299.63L313.87 299.82L313.87 300.09L313.80 300.15L313.87 300.22L313.87 300.48L315.29 301.92L316.56 304.42L317.17 306.19L317.30 307.04L317.37 307.11L317.37 307.37L317.44 307.43L317.44 307.70L317.51 307.76L317.51 308.02L317.57 308.09L317.57 308.35L317.64 308.42L317.64 308.68L317.71 308.75L317.71 309.01L317.78 309.07L317.78 312.03L317.71 312.09L317.71 312.35L317.64 312.42L317.64 312.68L317.57 312.75L317.57 313.01L317.51 313.08L317.51 313.34L317.44 313.40L317.44 313.67L317.37 313.73L317.37 313.99L317.30 314.06L317.17 314.91L316.56 316.68L315.29 319.18L313.87 320.62L313.87 320.88L313.80 320.95L313.87 321.01L313.87 321.28L314.14 321.60L314.34 321.73L314.61 321.73L314.68 321.80L315.29 321.60L316.77 320.16L317.10 319.57L318.18 318.06L319.46 315.57L319.46 315.37L319.59 315.17L319.59 314.91L319.66 314.85L319.86 313.60L319.93 313.53L319.93 313.21L320.00 313.14L320.13 312.22L320.20 312.16L320.13 311.96L320.20 311.89L320.20 309.27L320.13 309.21L320.20 308.94L320.13 308.88L320.13 308.61L320.07 308.55L320.07 308.29L320.00 308.22L320.00 307.96L319.93 307.89L319.93 307.63L319.86 307.57L319.86 307.30L319.80 307.24L319.59 305.99L319.46 305.79L319.46 305.53L319.26 305.27L318.18 303.10L318.05 302.97L318.05 302.84L317.44 302.06L316.77 301.01L315.22 299.50L315.02 299.37L314.75 299.37ZM295.96 299.30L295.89 299.37L295.63 299.37L295.42 299.50L293.87 301.01L293.20 302.06L292.60 302.84L292.60 302.97L292.46 303.10L291.38 305.27L291.18 305.53L291.18 305.79L291.05 305.99L291.05 306.25L290.98 306.32L290.98 306.58L290.91 306.65L290.91 306.91L290.85 306.97L290.85 307.24L290.78 307.30L290.78 307.57L290.71 307.63L290.71 307.89L290.64 307.96L290.64 308.22L290.58 308.29L290.58 308.55L290.44 308.94L290.51 309.14L290.44 309.27L290.44 311.89L290.51 311.96L290.44 312.16L290.51 312.22L290.51 312.49L290.58 312.55L290.58 312.81L290.71 313.21L290.71 313.53L290.78 313.60L290.78 313.86L290.85 313.93L290.85 314.19L290.91 314.26L290.91 314.52L290.98 314.58L290.98 314.85L291.05 314.91L291.05 315.17L291.18 315.37L291.18 315.57L292.46 318.06L293.54 319.57L293.87 320.16L295.36 321.60L295.96 321.80L296.03 321.73L296.30 321.73L296.64 321.47L296.77 321.28L296.77 321.01L296.84 320.95L296.77 320.88L296.77 320.62L295.36 319.18L294.08 316.68L293.47 314.91L293.34 314.06L293.27 313.99L293.27 313.73L293.20 313.67L293.20 313.40L293.13 313.34L293.13 313.08L293.07 313.01L293.07 312.75L293.00 312.68L293.00 312.42L292.93 312.35L292.93 312.09L292.86 312.03L292.86 309.07L292.93 309.01L292.93 308.75L293.00 308.68L293.00 308.42L293.07 308.35L293.07 308.09L293.13 308.02L293.13 307.76L293.20 307.70L293.20 307.43L293.27 307.37L293.27 307.11L293.34 307.04L293.47 306.19L294.08 304.42L295.36 301.92L296.77 300.48L296.77 300.22L296.84 300.15L296.77 300.09L296.77 299.82L296.50 299.50L296.30 299.37L296.03 299.37ZM354.33 306.97L354.33 307.24L354.27 307.30L354.33 307.37L354.33 307.63L354.47 307.83L354.80 308.09L355.07 308.09L355.13 308.16L356.20 308.16L356.27 308.22L356.27 315.50L356.20 315.57L355.13 315.57L355.07 315.63L354.80 315.63L354.47 315.90L354.33 316.09L354.33 316.36L354.27 316.42L354.33 316.49L354.33 316.75L354.47 316.95L354.80 317.21L355.07 317.21L355.13 317.27L359.80 317.27L359.87 317.21L360.13 317.21L360.47 316.95L360.60 316.75L360.60 316.49L360.67 316.42L360.60 316.36L360.60 316.09L360.33 315.77L360.13 315.63L359.87 315.63L359.80 315.57L358.73 315.57L358.67 315.50L358.67 309.60L359.60 308.68L361.20 308.16L362.20 308.16L363.00 308.55L363.20 308.75L363.27 309.01L363.53 309.47L363.53 315.50L363.47 315.57L362.40 315.57L362.33 315.63L362.07 315.63L361.73 315.90L361.60 316.09L361.60 316.36L361.53 316.42L361.60 316.49L361.60 316.75L361.73 316.95L362.07 317.21L362.33 317.21L362.40 317.27L367.07 317.27L367.13 317.21L367.40 317.21L367.73 316.95L367.87 316.75L367.87 316.49L367.93 316.42L367.87 316.36L367.87 316.09L367.60 315.77L367.40 315.63L367.13 315.63L367.07 315.57L366.00 315.57L365.93 315.50L365.93 309.60L366.87 308.68L368.47 308.16L369.53 308.16L370.20 308.48L370.47 308.75L370.80 309.40L370.80 315.50L370.73 315.57L369.67 315.57L369.60 315.63L369.33 315.63L369.13 315.77L368.87 316.09L368.87 316.36L368.80 316.42L368.87 316.49L368.87 316.75L369.00 316.95L369.33 317.21L369.60 317.21L369.67 317.27L374.33 317.27L374.40 317.21L374.67 317.21L374.87 317.08L375.13 316.75L375.13 316.49L375.20 316.42L375.13 316.36L375.13 316.09L375.00 315.90L374.67 315.63L374.40 315.63L374.33 315.57L373.27 315.57L373.20 315.50L373.20 309.27L373.13 309.21L373.13 308.88L372.47 307.57L372.40 307.57L372.33 307.43L371.93 307.11L370.13 306.52L369.73 306.52L369.67 306.45L368.40 306.45L368.33 306.52L368.00 306.52L366.20 307.11L365.87 307.30L365.33 307.83L365.20 307.57L365.13 307.57L364.93 307.30L364.60 307.11L362.80 306.52L362.47 306.52L362.40 306.45L361.07 306.45L361.00 306.52L360.73 306.52L358.93 307.11L358.67 307.30L358.60 307.24L358.60 306.97L358.47 306.78L358.13 306.52L357.87 306.52L357.80 306.45L355.13 306.45L355.07 306.52L354.80 306.52L354.60 306.65ZM347.20 306.45L347.13 306.52L346.80 306.52L344.87 307.17L343.27 308.68L343.27 308.81L343.07 309.01L342.40 310.98L342.47 311.04L342.40 311.24L342.40 312.49L342.47 312.55L342.47 312.75L342.40 312.81L343.00 314.58L343.27 314.91L343.27 315.04L344.67 316.42L345.00 316.62L346.80 317.21L347.13 317.21L347.20 317.27L348.53 317.27L348.60 317.21L348.93 317.21L350.73 316.62L351.07 316.42L352.53 314.98L352.67 314.78L352.67 314.52L352.73 314.45L352.67 314.39L352.67 314.13L352.53 313.93L352.20 313.67L351.93 313.67L351.87 313.60L351.80 313.67L351.53 313.67L351.40 313.80L351.20 313.86L350.00 315.04L348.47 315.57L347.40 315.57L346.47 315.11L345.33 313.99L344.80 312.49L344.80 311.24L345.20 310.19L345.27 309.80L346.47 308.61L347.40 308.16L349.00 308.16L350.07 308.68L350.27 308.88L349.73 309.60L349.73 309.86L349.67 309.93L349.73 309.99L349.73 310.25L350.53 311.17L350.73 311.24L350.87 311.37L351.13 311.37L351.20 311.44L351.27 311.37L351.53 311.37L351.73 311.24L352.53 310.45L352.67 310.25L352.67 309.99L352.73 309.93L352.73 309.27L352.67 309.21L352.67 308.94L352.53 308.75L351.07 307.30L351.00 307.30L350.93 307.17L349.60 306.52L349.27 306.52L349.20 306.45ZM339.27 299.30L339.20 299.37L338.93 299.37L338.73 299.50L337.20 301.01L336.53 302.06L335.93 302.84L335.93 302.97L335.80 303.10L334.73 305.27L334.53 305.53L334.53 305.79L334.40 305.99L334.40 306.25L334.33 306.32L334.33 306.58L334.27 306.65L334.27 306.91L334.20 306.97L334.20 307.24L334.13 307.30L334.13 307.57L334.07 307.63L334.07 307.89L334.00 307.96L334.00 308.22L333.93 308.29L333.93 308.55L333.80 308.94L333.87 309.14L333.80 309.27L333.80 311.89L333.87 311.96L333.80 312.16L333.87 312.22L333.87 312.49L333.93 312.55L333.93 312.81L334.07 313.21L334.07 313.53L334.13 313.60L334.13 313.86L334.20 313.93L334.20 314.19L334.27 314.26L334.27 314.52L334.33 314.58L334.33 314.85L334.40 314.91L334.40 315.17L334.53 315.37L334.53 315.57L335.80 318.06L336.87 319.57L337.20 320.16L338.67 321.60L339.27 321.80L339.33 321.73L339.60 321.73L339.93 321.47L340.07 321.28L340.07 321.01L340.13 320.95L340.07 320.88L340.07 320.62L338.67 319.18L337.40 316.68L336.80 314.91L336.67 314.06L336.60 313.99L336.60 313.73L336.53 313.67L336.53 313.40L336.47 313.34L336.47 313.08L336.40 313.01L336.40 312.75L336.33 312.68L336.33 312.42L336.27 312.35L336.27 312.09L336.20 312.03L336.20 309.07L336.27 309.01L336.27 308.75L336.33 308.68L336.33 308.42L336.40 308.35L336.40 308.09L336.47 308.02L336.47 307.76L336.53 307.70L336.53 307.43L336.60 307.37L336.60 307.11L336.67 307.04L336.80 306.19L337.40 304.42L338.67 301.92L340.07 300.48L340.07 300.22L340.13 300.15L340.07 300.09L340.07 299.82L339.80 299.50L339.60 299.37L339.33 299.37ZM377.60 303.70L377.71 304.08L377.87 304.27L378.19 304.40L382.41 304.40L382.73 304.27L382.89 304.08L383.00 303.70L382.89 303.32L382.73 303.13L382.41 303.00L378.19 303.00L377.87 303.13L377.71 303.32ZM385.76 300.85L385.00 301.06L384.94 301.17L384.62 301.28L384.24 301.59L383.93 302.07L383.93 302.23L383.86 302.28L383.86 302.49L383.80 302.55L383.86 303.02L383.99 303.23L384.43 303.60L384.69 303.71L384.94 303.71L385.00 303.76L385.07 303.71L385.32 303.71L385.45 303.66L385.51 303.71L385.51 303.92L385.64 304.13L385.83 304.29L386.08 304.40L386.33 304.40L386.40 304.45L386.97 304.45L387.22 304.61L387.35 304.87L387.35 305.35L387.28 305.45L387.03 305.61L386.21 305.61L386.14 305.56L386.27 305.24L386.08 304.77L385.70 304.45L385.32 304.29L385.07 304.29L385.00 304.24L384.43 304.40L383.99 304.77L383.80 305.24L383.86 305.77L384.24 306.41L384.75 306.83L385.13 306.99L385.70 307.15L386.08 307.15L386.14 307.20L387.22 307.20L387.28 307.15L387.66 307.15L388.61 306.83L388.99 306.51L389.06 306.35L389.18 306.30L389.18 306.20L389.44 305.82L389.44 305.56L389.50 305.51L389.50 304.82L389.37 304.50L389.44 304.40L389.18 303.97L389.12 303.97L388.93 303.76L389.18 303.34L389.12 303.29L389.25 302.97L389.25 302.28L389.18 302.23L389.18 301.96L388.80 301.38L388.61 301.22L388.42 301.17L388.36 301.06L387.60 300.85L387.28 300.85L387.22 300.80L386.14 300.80L386.08 300.85ZM386.21 302.44L386.27 302.39L386.97 302.39L387.09 302.49L387.09 302.76L386.97 302.86L386.40 302.86L386.27 302.92L386.21 302.86L386.27 302.76L386.21 302.70ZM391.49 299.30L391.42 299.37L391.15 299.37L390.81 299.63L390.67 299.82L390.67 300.09L390.60 300.15L390.67 300.22L390.67 300.48L391.42 301.27L391.42 301.33L392.11 301.99L393.41 304.48L394.02 306.25L394.16 307.11L394.23 307.17L394.23 307.43L394.29 307.50L394.29 307.76L394.36 307.83L394.36 308.09L394.43 308.16L394.43 308.42L394.50 308.48L394.50 308.75L394.57 308.81L394.57 309.07L394.64 309.14L394.64 312.03L394.57 312.09L394.57 312.35L394.50 312.42L394.50 312.68L394.43 312.75L394.43 313.01L394.36 313.08L394.36 313.34L394.29 313.40L394.29 313.67L394.23 313.73L394.23 313.99L394.16 314.06L394.02 314.91L393.41 316.68L392.17 319.04L390.87 320.29L390.81 320.49L390.67 320.62L390.67 320.88L390.60 320.95L390.67 321.01L390.67 321.28L390.94 321.60L391.15 321.73L391.42 321.73L391.49 321.80L392.11 321.60L393.54 320.23L395.05 318.06L395.53 317.14L395.53 317.01L396.35 315.50L396.48 315.11L396.48 314.85L396.55 314.78L396.55 314.52L396.62 314.45L396.62 314.19L396.69 314.13L396.69 313.86L396.76 313.80L396.76 313.53L396.83 313.47L397.03 312.22L397.10 312.16L397.03 311.96L397.10 311.89L397.10 309.27L397.03 309.21L397.10 308.94L397.03 308.88L397.03 308.61L396.96 308.55L396.96 308.29L396.89 308.22L396.89 307.96L396.76 307.63L396.76 307.37L396.69 307.30L396.69 307.04L396.62 306.97L396.62 306.71L396.55 306.65L396.55 306.38L396.48 306.32L396.48 306.06L396.35 305.79L396.35 305.60L395.05 303.10L394.91 302.97L394.91 302.84L394.57 302.45L393.54 300.94L392.04 299.50L391.83 299.37L391.56 299.37ZM77.94 179.30L78.61 180.61L78.68 180.61L78.75 180.74L79.69 181.59L79.69 181.66L81.04 182.31L81.38 182.31L81.44 182.38L82.79 182.38L82.86 182.31L83.19 182.31L84.00 181.92L84.20 182.11L84.41 182.18L84.47 182.31L85.82 182.97L86.16 182.97L86.22 183.03L87.30 182.97L88.04 182.57L88.18 182.57L88.24 182.70L88.51 182.90L88.51 182.97L89.86 183.62L90.20 183.62L90.26 183.69L91.34 183.62L92.69 182.97L92.69 182.90L92.96 182.70L93.16 182.44L93.70 180.74L93.83 180.54L93.83 180.28L93.90 180.21L93.90 176.28L93.83 176.22L93.83 175.89L93.23 174.12L92.96 173.73L92.62 173.46L91.27 172.81L91.00 172.81L90.94 172.74L90.26 172.74L90.20 172.81L89.93 172.81L88.38 173.59L88.04 174.05L87.44 175.82L87.44 176.22L87.37 176.28L87.37 179.49L86.83 181.07L86.56 181.33L86.36 181.33L85.48 180.87L86.36 179.23L86.36 178.97L86.43 178.90L86.43 177.59L86.36 177.53L86.36 177.26L85.48 175.63L84.54 174.77L84.41 174.77L83.13 174.12L82.86 174.12L82.79 174.05L81.44 174.05L81.38 174.12L81.11 174.12L80.37 174.51L80.30 174.45L80.30 173.59L80.23 173.53L80.23 173.27L79.96 172.94L79.76 172.81L79.49 172.81L79.42 172.74L78.75 172.74L78.68 172.81L78.41 172.81L78.08 173.07L77.94 173.27L77.94 173.53L77.87 173.59L77.94 173.66L77.94 173.99L78.61 175.30L78.75 175.36L78.82 175.69L78.75 175.82L78.61 175.89L77.94 177.20L77.94 177.53L77.87 177.59L77.87 178.90L77.94 178.97ZM90.40 181.98L89.73 181.66L89.59 181.52L89.39 180.80L89.73 179.95L89.73 179.62L89.79 179.56L89.79 176.35L90.33 174.77L90.67 174.45L90.80 174.45L91.48 174.77L91.61 174.91L92.15 176.41L92.15 180.02L91.61 181.59L90.87 181.98ZM79.62 178.71L79.62 177.79L80.03 177.00L80.23 176.81L81.04 176.41L83.26 176.41L84.07 176.81L84.27 177.00L84.68 177.79L84.68 178.64L84.20 179.56L83.33 180.02L80.97 180.02L80.16 179.62L80.03 179.49ZM77.87 191.42L77.94 191.49L77.94 191.88L78.61 193.78L80.23 195.42L80.43 195.55L81.17 195.75L81.38 195.88L82.39 196.20L82.72 196.20L82.79 196.27L84.20 196.27L84.27 196.20L84.61 196.20L86.56 195.55L88.24 193.98L88.45 193.65L89.05 191.88L89.05 191.49L89.12 191.42L89.12 190.11L89.05 190.04L89.05 189.72L88.38 187.82L88.24 187.62L86.49 185.98L84.47 185.33L84.41 185.39L84.20 185.33L82.79 185.33L82.59 185.39L82.52 185.33L80.43 186.05L78.75 187.62L78.55 187.95L77.94 189.72L77.94 190.04L77.87 190.11ZM79.62 191.29L79.62 190.31L80.16 189.26L81.24 188.21L82.86 187.69L84.07 187.69L85.82 188.27L86.83 189.26L87.37 190.31L87.37 191.29L86.90 192.21L85.89 193.19L85.82 193.32L84.00 193.91L82.92 193.91L81.31 193.39L80.10 192.21ZM73.16 161.41L73.43 161.73L73.63 161.86L73.90 161.86L73.97 161.93L78.08 161.93L78.14 161.86L78.41 161.86L78.61 161.73L78.88 161.41L78.88 161.14L78.95 161.08L78.88 161.01L78.88 160.75L78.75 160.55L78.41 160.29L78.01 160.16L77.67 160.16L77.60 160.09L77.27 160.09L77.20 160.03L76.86 160.03L76.80 159.96L76.46 159.96L76.39 159.90L75.25 159.77L74.84 159.64L74.84 157.34L74.91 157.28L87.30 157.28L87.37 157.34L87.37 158.39L87.44 158.46L87.44 158.72L87.57 158.91L87.91 159.18L88.18 159.18L88.24 159.24L88.31 159.18L88.58 159.18L88.92 158.91L89.05 158.72L89.05 158.46L89.12 158.39L89.12 153.80L89.05 153.74L89.05 153.48L88.92 153.28L88.58 153.02L88.31 153.02L88.24 152.95L88.18 153.02L87.91 153.02L87.71 153.15L87.44 153.48L87.44 153.74L87.37 153.80L87.37 154.85L87.30 154.92L74.91 154.92L74.84 154.85L74.84 152.56L74.91 152.49L75.25 152.49L75.32 152.43L75.65 152.43L75.72 152.36L76.06 152.36L76.12 152.30L76.46 152.30L76.53 152.23L76.86 152.23L76.93 152.16L77.27 152.16L77.34 152.10L78.41 151.97L78.61 151.84L78.88 151.51L78.88 151.25L78.95 151.18L78.88 151.12L78.88 150.85L78.61 150.53L78.41 150.40L78.14 150.40L78.08 150.33L73.97 150.33L73.90 150.40L73.63 150.40L73.30 150.66L73.16 150.85L73.16 151.12L73.09 151.18L73.09 161.08L73.16 161.14ZM73.16 203.68L73.30 203.87L73.63 204.13L73.90 204.13L73.97 204.20L74.04 204.13L74.31 204.13L74.51 204.00L74.78 203.68L74.78 203.41L74.84 203.35L74.84 202.30L74.91 202.23L87.30 202.23L87.37 202.30L87.37 203.35L87.44 203.41L87.44 203.68L87.57 203.87L87.91 204.13L88.18 204.13L88.24 204.20L88.31 204.13L88.58 204.13L88.92 203.87L89.05 203.68L89.05 203.41L89.12 203.35L89.12 198.70L89.05 198.63L89.05 198.37L88.92 198.17L88.58 197.91L88.31 197.91L88.24 197.84L88.18 197.91L87.91 197.91L87.71 198.04L87.44 198.37L87.44 198.63L87.37 198.70L87.37 199.81L87.30 199.87L73.97 199.87L73.90 199.94L73.63 199.94L73.30 200.20L73.16 200.40L73.16 200.66L73.09 200.73L73.09 203.35L73.16 203.41ZM70.40 147.84L70.47 147.90L70.47 148.17L70.74 148.49L70.94 148.63L71.21 148.63L71.28 148.69L71.34 148.63L71.61 148.63L73.09 147.25L75.79 145.94L77.60 145.35L78.14 145.28L78.21 145.22L78.55 145.22L78.61 145.15L78.88 145.15L78.95 145.09L79.22 145.09L79.29 145.02L79.56 145.02L79.62 144.96L79.89 144.96L79.96 144.89L80.23 144.89L80.63 144.76L83.67 144.76L83.73 144.82L84.00 144.82L84.07 144.89L84.34 144.89L84.41 144.96L84.68 144.96L84.74 145.02L85.01 145.02L85.08 145.09L85.35 145.09L85.42 145.15L86.70 145.35L88.51 145.94L91.07 147.18L92.35 148.43L92.55 148.49L92.69 148.63L92.96 148.63L93.02 148.69L93.09 148.63L93.36 148.63L93.70 148.36L93.83 148.17L93.83 147.90L93.90 147.84L93.83 147.77L93.83 147.51L93.70 147.32L92.28 145.94L92.22 145.94L92.08 145.74L91.88 145.68L89.99 144.43L87.30 143.12L87.10 143.12L86.90 142.99L86.63 142.99L86.56 142.92L86.29 142.92L86.22 142.86L85.95 142.86L85.89 142.79L85.62 142.79L85.55 142.73L85.28 142.73L85.21 142.66L83.93 142.47L83.87 142.40L83.67 142.40L83.60 142.47L83.46 142.40L80.77 142.40L80.70 142.47L80.63 142.40L80.37 142.40L80.30 142.47L80.03 142.47L79.96 142.53L79.69 142.53L79.62 142.60L79.36 142.60L79.29 142.66L79.02 142.66L78.95 142.73L78.68 142.73L78.61 142.79L77.34 142.99L77.13 143.12L77.00 143.12L74.04 144.56L72.22 145.74L70.60 147.32L70.47 147.51L70.47 147.77ZM70.40 164.35L70.47 164.42L70.47 164.68L70.60 164.88L72.22 166.45L72.89 166.84L73.09 167.04L74.10 167.70L74.24 167.70L74.37 167.83L77.07 169.14L77.54 169.20L77.60 169.27L77.87 169.27L77.94 169.34L78.21 169.34L78.28 169.40L78.55 169.40L78.61 169.47L78.88 169.47L78.95 169.53L79.22 169.53L79.29 169.60L79.56 169.60L79.62 169.66L79.89 169.66L79.96 169.73L80.23 169.73L80.30 169.79L80.70 169.79L80.77 169.86L83.46 169.86L83.53 169.79L83.93 169.79L84.00 169.73L84.27 169.73L84.34 169.66L84.61 169.66L84.68 169.60L84.94 169.60L85.01 169.53L85.28 169.53L85.35 169.47L85.62 169.47L85.69 169.40L85.95 169.40L86.02 169.34L86.29 169.34L86.36 169.27L87.23 169.14L89.93 167.83L90.87 167.17L91.07 167.11L92.08 166.45L92.15 166.32L92.28 166.25L93.70 164.88L93.83 164.68L93.83 164.42L93.90 164.35L93.83 164.29L93.83 164.03L93.56 163.70L93.36 163.57L93.09 163.57L93.02 163.50L92.96 163.57L92.69 163.57L92.55 163.70L92.35 163.76L91.07 165.01L88.51 166.25L87.17 166.65L86.76 166.84L86.49 166.84L86.43 166.91L86.16 166.91L86.09 166.98L85.82 166.98L85.75 167.04L85.48 167.04L85.42 167.11L85.15 167.11L85.08 167.17L84.81 167.17L84.74 167.24L84.47 167.24L84.41 167.30L84.14 167.30L84.07 167.37L83.80 167.37L83.40 167.50L80.90 167.50L80.84 167.43L80.57 167.43L80.50 167.37L80.23 167.37L79.83 167.24L79.49 167.24L79.42 167.17L79.15 167.17L79.09 167.11L77.81 166.91L75.58 166.19L73.16 165.01L71.61 163.57L71.34 163.57L71.28 163.50L71.21 163.57L70.94 163.57L70.60 163.83L70.47 164.03L70.47 164.29ZM72.78 119.02L73.12 119.28L73.39 119.28L73.45 119.35L73.52 119.28L73.79 119.28L74.12 119.02L74.26 118.83L74.26 118.57L74.33 118.50L74.33 117.40L74.39 117.34L86.73 117.34L86.80 117.40L86.80 118.50L86.86 118.57L86.86 118.83L87.00 119.02L87.33 119.28L87.60 119.28L87.67 119.35L87.73 119.28L88.00 119.28L88.20 119.15L88.47 118.83L88.47 118.57L88.54 118.50L88.54 113.90L88.47 113.83L88.47 113.57L88.20 113.25L88.00 113.12L87.73 113.12L87.67 113.05L87.60 113.12L87.33 113.12L87.00 113.38L86.86 113.57L86.86 113.83L86.80 113.90L86.80 114.94L86.73 115.00L82.64 115.00L80.96 113.38L86.73 109.62L86.80 109.68L86.86 110.33L87.00 110.52L87.33 110.78L87.60 110.78L87.67 110.85L87.73 110.78L88.00 110.78L88.34 110.52L88.47 110.33L88.47 110.07L88.54 110.00L88.54 106.05L88.47 105.98L88.47 105.72L88.34 105.53L88.00 105.27L87.73 105.27L87.67 105.20L87.60 105.27L87.33 105.27L87.13 105.40L86.86 105.72L86.86 105.98L86.80 106.05L86.80 106.89L86.60 107.08L79.29 111.76L74.33 106.95L74.33 106.05L74.26 105.98L74.26 105.72L74.12 105.53L73.79 105.27L73.52 105.27L73.45 105.20L73.39 105.27L73.12 105.27L72.92 105.40L72.65 105.72L72.65 105.98L72.58 106.05L72.58 110.00L72.65 110.07L72.65 110.33L72.78 110.52L73.12 110.78L73.39 110.78L73.45 110.85L73.52 110.78L73.79 110.78L73.99 110.65L74.26 110.33L74.33 109.55L74.39 109.49L80.02 114.94L79.96 115.00L74.39 115.00L74.33 114.94L74.33 113.90L74.26 113.83L74.26 113.57L74.12 113.38L73.79 113.12L73.52 113.12L73.45 113.05L73.39 113.12L73.12 113.12L72.78 113.38L72.65 113.57L72.65 113.83L72.58 113.90L72.58 118.50L72.65 118.57L72.65 118.83ZM69.90 103.45L69.97 103.52L69.97 103.78L70.24 104.10L70.44 104.23L70.70 104.23L70.77 104.29L70.84 104.23L71.11 104.23L72.65 102.80L75.06 101.63L77.28 100.92L77.54 100.92L77.61 100.86L77.88 100.86L77.95 100.79L78.21 100.79L78.28 100.73L78.55 100.73L78.95 100.60L79.29 100.60L79.35 100.53L79.62 100.53L79.69 100.47L79.96 100.47L80.36 100.34L82.84 100.34L82.91 100.40L83.18 100.40L83.24 100.47L83.51 100.47L83.58 100.53L83.85 100.53L83.91 100.60L84.18 100.60L84.25 100.66L84.52 100.66L84.58 100.73L84.85 100.73L84.92 100.79L85.19 100.79L85.25 100.86L85.52 100.86L85.59 100.92L85.86 100.92L85.92 100.98L86.39 101.05L86.60 101.18L87.94 101.57L90.48 102.80L91.76 104.03L91.96 104.10L92.09 104.23L92.36 104.23L92.43 104.29L92.50 104.23L92.76 104.23L93.10 103.97L93.23 103.78L93.23 103.52L93.30 103.45L93.23 103.39L93.23 103.13L93.10 102.93L91.69 101.57L91.62 101.57L91.49 101.37L90.48 100.73L90.28 100.66L89.34 100.01L86.66 98.71L85.79 98.58L85.72 98.52L85.46 98.52L85.39 98.45L85.12 98.45L85.05 98.39L84.78 98.39L84.72 98.32L84.45 98.32L84.38 98.26L84.11 98.26L84.05 98.19L83.78 98.19L83.71 98.13L83.44 98.13L83.38 98.06L82.97 98.06L82.91 98.00L80.23 98.00L80.16 98.06L79.76 98.06L79.69 98.13L79.42 98.13L79.35 98.19L79.09 98.19L79.02 98.26L78.75 98.26L78.68 98.32L78.42 98.32L78.35 98.39L78.08 98.39L78.01 98.45L77.74 98.45L77.68 98.52L77.41 98.52L77.34 98.58L77.07 98.58L77.01 98.65L76.54 98.71L73.86 100.01L73.72 100.14L73.59 100.14L72.58 100.79L72.38 100.98L71.71 101.37L70.10 102.93L69.97 103.13L69.97 103.39ZM69.90 121.75L69.97 121.81L69.97 122.07L70.10 122.27L71.71 123.83L72.38 124.22L72.58 124.41L73.59 125.06L73.72 125.06L73.86 125.19L76.54 126.49L77.01 126.55L77.07 126.62L77.34 126.62L77.41 126.68L77.68 126.68L77.74 126.75L78.01 126.75L78.08 126.81L78.35 126.81L78.42 126.88L78.68 126.88L78.75 126.94L79.02 126.94L79.09 127.01L79.35 127.01L79.42 127.07L79.69 127.07L79.76 127.14L80.16 127.14L80.23 127.20L82.91 127.20L82.97 127.14L83.38 127.14L83.44 127.07L83.71 127.07L83.78 127.01L84.05 127.01L84.11 126.94L84.38 126.94L84.45 126.88L84.72 126.88L84.78 126.81L85.05 126.81L85.12 126.75L85.39 126.75L85.46 126.68L85.72 126.68L85.79 126.62L86.66 126.49L89.34 125.19L90.28 124.54L90.48 124.47L91.49 123.83L91.56 123.70L91.69 123.63L93.10 122.27L93.23 122.07L93.23 121.81L93.30 121.75L93.23 121.68L93.23 121.42L92.96 121.10L92.76 120.97L92.50 120.97L92.43 120.91L92.36 120.97L92.09 120.97L91.96 121.10L91.76 121.17L90.48 122.40L87.94 123.63L86.60 124.02L86.19 124.22L85.92 124.22L85.86 124.28L85.59 124.28L85.52 124.34L85.25 124.34L85.19 124.41L84.92 124.41L84.85 124.47L84.58 124.47L84.52 124.54L84.25 124.54L84.18 124.60L83.91 124.60L83.85 124.67L83.58 124.67L83.51 124.73L83.24 124.73L82.84 124.86L80.36 124.86L80.29 124.80L80.02 124.80L79.96 124.73L79.69 124.73L79.29 124.60L78.95 124.60L78.88 124.54L78.62 124.54L78.55 124.47L77.28 124.28L75.06 123.57L72.65 122.40L71.11 120.97L70.84 120.97L70.77 120.91L70.70 120.97L70.44 120.97L70.10 121.23L69.97 121.42L69.97 121.68ZM439.15 66.77L439.36 67.32L439.57 67.51L440.20 67.69L452.56 67.69L453.18 67.51L453.39 67.32L453.60 66.77L453.39 66.21L453.18 66.03L452.56 65.84L440.20 65.84L439.57 66.03L439.36 66.21ZM439.15 63.12L439.36 63.68L439.57 63.86L440.20 64.05L452.56 64.05L453.18 63.86L453.39 63.68L453.60 63.12L453.39 62.57L453.18 62.38L452.56 62.20L440.20 62.20L439.57 62.38L439.36 62.57ZM432.28 56.76L432.00 56.89L431.79 57.07L431.58 57.63L431.58 60.90L431.51 60.96L430.54 60.96L429.92 61.15L429.71 61.33L429.57 61.58L429.57 61.83L429.50 61.89L429.57 61.95L429.57 62.20L429.71 62.44L429.92 62.63L430.19 62.75L430.47 62.75L430.54 62.81L431.51 62.81L431.58 62.88L431.58 68.00L431.65 68.06L431.65 68.25L431.58 68.31L432.28 70.16L432.35 70.16L432.49 70.41L432.90 70.72L434.29 71.34L434.57 71.34L434.64 71.40L436.03 71.40L436.10 71.34L436.38 71.34L436.65 71.21L436.86 71.03L437.00 70.78L437.00 70.54L437.07 70.47L436.86 69.92L436.65 69.73L436.38 69.61L436.10 69.61L436.03 69.55L434.85 69.55L434.29 69.30L434.08 69.11L433.67 68.00L433.67 62.88L433.74 62.81L435.33 62.81L435.96 62.63L436.17 62.44L436.31 62.20L436.31 61.95L436.38 61.89L436.31 61.83L436.31 61.58L436.17 61.33L435.96 61.15L435.68 61.02L435.40 61.02L435.33 60.96L433.74 60.96L433.67 60.90L433.67 57.63L433.60 57.56L433.60 57.32L433.46 57.07L433.25 56.89L432.97 56.76L432.69 56.76L432.63 56.70L432.56 56.76ZM495.29 68.03L495.22 68.09L494.76 68.15L494.56 68.27L493.71 69.05L493.58 69.23L493.51 69.65L493.44 69.71L493.51 69.77L493.58 70.20L493.71 70.38L494.56 71.16L494.76 71.28L495.22 71.34L495.29 71.40L495.35 71.34L495.82 71.28L495.95 71.16L496.14 71.10L496.80 70.50L496.87 70.32L497.00 70.20L497.07 69.77L497.13 69.71L497.07 69.65L497.00 69.23L496.87 69.11L496.80 68.93L496.14 68.33L495.95 68.27L495.82 68.15L495.35 68.09ZM510.24 56.82L509.78 56.76L509.71 56.70L500.56 56.70L500.49 56.76L500.03 56.82L499.83 56.94L499.50 57.30L499.44 57.72L499.37 57.78L499.44 57.84L499.50 58.27L499.83 58.63L500.23 58.81L500.49 58.81L500.56 58.87L507.74 58.87L507.80 58.93L507.08 60.19L507.08 60.31L506.42 61.46L506.42 61.58L505.76 62.72L505.76 62.85L505.04 64.11L505.04 64.23L504.38 65.38L504.38 65.50L503.72 66.64L503.72 66.76L502.07 69.83L502.01 70.26L501.94 70.32L502.01 70.38L502.01 70.62L502.20 70.98L502.60 71.28L503.06 71.34L503.13 71.40L503.19 71.34L503.65 71.28L503.85 71.16L504.18 70.80L504.25 70.80L504.44 70.44L504.44 70.32L505.10 69.17L505.10 69.05L506.95 65.62L506.95 65.50L507.54 64.47L507.54 64.35L508.13 63.33L508.13 63.21L508.79 62.06L508.79 61.94L509.38 60.92L509.38 60.80L510.04 59.65L510.04 59.53L510.64 58.51L510.64 58.39L510.77 58.27L510.83 57.84L510.90 57.78L510.83 57.72L510.83 57.48L510.64 57.12ZM486.20 56.70L486.13 56.76L485.67 56.82L485.54 56.94L485.34 57.00L483.50 58.69L482.18 59.29L481.85 59.65L481.78 60.07L481.72 60.13L481.78 60.19L481.85 60.62L481.98 60.80L482.38 61.10L482.84 61.16L482.90 61.22L482.97 61.16L483.50 61.10L484.49 60.62L484.75 60.56L484.88 60.38L485.01 60.44L485.01 70.32L485.08 70.38L485.14 70.80L485.28 70.98L485.67 71.28L486.13 71.34L486.20 71.40L486.26 71.34L486.73 71.28L486.92 71.16L487.25 70.80L487.32 70.38L487.38 70.32L487.38 57.78L487.32 57.72L487.25 57.30L487.12 57.12L486.73 56.82L486.26 56.76ZM468.87 56.76L468.68 56.82L468.28 57.12L468.15 57.30L468.08 57.72L468.02 57.78L468.08 57.84L468.15 58.27L468.28 58.45L468.68 58.75L469.14 58.81L469.20 58.87L473.88 58.87L473.95 58.93L471.57 61.76L471.31 62.24L471.31 62.48L471.25 62.54L471.31 62.60L471.31 62.85L471.51 63.21L471.90 63.51L472.36 63.57L472.43 63.63L474.14 63.63L474.93 63.99L475.40 64.47L475.86 65.74L475.86 66.58L475.33 67.97L474.34 68.81L472.96 69.23L471.25 69.23L469.86 68.81L469.47 68.45L468.81 67.24L468.41 66.94L467.95 66.88L467.89 66.82L467.82 66.88L467.36 66.94L467.16 67.06L466.83 67.42L466.77 67.85L466.70 67.91L466.77 67.97L466.83 68.45L467.42 69.53L467.62 69.71L467.69 69.89L468.35 70.50L468.94 70.80L470.72 71.34L471.05 71.34L471.11 71.40L473.09 71.40L473.16 71.34L473.55 71.34L475.33 70.80L475.92 70.50L476.78 69.71L476.78 69.65L477.44 68.99L478.16 67.06L478.16 66.76L478.23 66.70L478.23 65.56L478.16 65.50L478.16 65.19L477.44 63.27L477.17 62.91L476.58 62.36L476.38 62.30L476.19 62.12L475.00 61.58L474.80 61.58L474.74 61.52L477.44 58.27L477.50 57.84L477.57 57.78L477.50 57.72L477.44 57.30L477.31 57.12L476.91 56.82L476.45 56.76L476.38 56.70L469.20 56.70L469.14 56.76ZM439.32 92.30L439.47 92.67L439.75 92.92L440.17 93.05L452.75 93.05L453.18 92.92L453.46 92.67L453.60 92.30L453.46 91.92L453.18 91.67L452.75 91.55L440.17 91.55L439.75 91.67L439.47 91.92ZM439.32 88.61L439.47 88.99L439.75 89.24L440.17 89.36L452.75 89.36L453.18 89.24L453.46 88.99L453.60 88.61L453.46 88.24L453.18 87.99L452.75 87.86L440.17 87.86L439.75 87.99L439.47 88.24ZM432.47 82.30L432.04 82.42L431.76 82.67L431.62 83.05L431.62 86.55L431.55 86.61L430.35 86.61L430.28 86.67L430.07 86.67L429.64 86.99L429.50 87.36L429.64 87.74L430.07 88.05L430.28 88.05L430.35 88.11L431.55 88.11L431.62 88.17L431.62 93.55L431.69 93.61L431.62 93.80L432.33 95.67L432.47 95.74L432.75 96.11L434.16 96.74L434.45 96.74L434.52 96.80L435.93 96.80L436.36 96.67L436.64 96.42L436.78 96.05L436.64 95.67L436.21 95.36L436.00 95.36L435.93 95.30L434.73 95.30L433.88 94.92L433.67 94.55L433.32 93.61L433.32 88.17L433.39 88.11L435.22 88.11L435.30 88.05L435.51 88.05L435.93 87.74L436.07 87.36L435.93 86.99L435.51 86.67L435.30 86.67L435.22 86.61L433.39 86.61L433.32 86.55L433.32 83.05L433.18 82.67L432.89 82.42ZM495.35 93.75L494.75 93.94L494.55 94.18L493.88 94.73L493.69 95.28L493.88 95.83L494.75 96.62L495.35 96.80L495.41 96.74L495.68 96.74L496.08 96.56L496.74 95.95L496.94 95.58L496.94 95.34L497.01 95.28L496.94 95.22L496.94 94.97L496.74 94.61L495.95 93.94ZM501.66 82.36L501.40 82.48L501.20 82.67L500.93 83.21L500.93 83.70L500.86 83.76L500.86 84.25L500.80 84.31L500.80 84.80L500.73 84.86L500.73 85.35L500.66 85.41L500.66 85.89L500.60 85.96L500.60 86.44L500.53 86.50L500.53 86.99L500.46 87.05L500.46 87.54L500.40 87.60L500.40 88.09L500.33 88.15L500.33 88.51L500.40 88.58L500.33 88.64L500.53 89.18L500.73 89.37L501.00 89.49L501.26 89.49L501.33 89.55L501.40 89.49L501.66 89.49L501.93 89.37L502.53 88.82L504.05 88.33L505.78 88.33L507.31 88.82L508.37 89.79L508.91 91.26L508.91 92.11L508.37 93.57L507.31 94.48L505.78 94.97L503.99 94.97L502.59 94.55L501.99 93.94L501.46 92.90L501.26 92.72L500.66 92.54L500.60 92.60L500.33 92.60L500.07 92.72L499.87 92.90L499.67 93.45L499.80 93.81L499.73 93.88L500.40 95.09L500.53 95.16L500.60 95.34L501.26 95.95L501.59 96.07L501.73 96.19L503.52 96.74L503.85 96.74L503.92 96.80L505.92 96.80L505.98 96.74L506.38 96.74L508.17 96.19L508.31 96.07L508.51 96.01L510.04 94.61L510.24 94.24L510.83 92.60L510.83 92.29L510.90 92.23L510.90 91.07L510.83 91.01L510.83 90.71L510.24 89.06L510.04 88.70L508.51 87.30L508.11 87.11L506.31 86.56L505.98 86.56L505.92 86.50L503.92 86.50L503.85 86.56L503.52 86.56L502.66 86.87L502.53 86.81L502.53 86.63L502.59 86.56L502.59 86.08L502.66 86.02L502.79 84.43L502.92 84.13L508.57 84.13L508.64 84.07L508.91 84.07L509.17 83.94L509.37 83.76L509.50 83.52L509.50 83.27L509.57 83.21L509.50 83.15L509.50 82.91L509.37 82.67L509.17 82.48L508.57 82.30L501.99 82.30L501.93 82.36ZM484.51 82.30L482.52 82.91L482.45 83.03L481.99 83.27L480.79 84.92L480.52 85.41L480.52 85.65L480.46 85.71L480.46 85.96L480.39 86.02L480.39 86.26L480.33 86.32L480.33 86.56L480.26 86.63L480.26 86.87L480.19 86.93L480.19 87.17L480.13 87.23L480.13 87.48L480.06 87.54L480.06 87.78L479.99 87.84L479.99 88.09L479.86 88.45L479.93 88.51L479.86 88.64L479.86 90.46L479.93 90.59L479.86 90.65L479.93 90.71L479.93 90.95L479.99 91.01L479.99 91.26L480.06 91.32L480.06 91.56L480.13 91.62L480.13 91.87L480.19 91.93L480.19 92.17L480.26 92.23L480.26 92.47L480.33 92.54L480.33 92.78L480.39 92.84L480.52 93.63L480.72 93.94L480.72 94.06L481.92 95.70L482.25 96.01L482.45 96.07L482.59 96.19L484.38 96.74L484.78 96.74L484.85 96.80L486.17 96.80L486.24 96.74L486.57 96.74L488.37 96.19L488.50 96.07L488.70 96.01L489.10 95.64L490.30 94.00L490.23 93.94L490.49 93.45L490.49 93.21L490.56 93.14L490.56 92.90L490.63 92.84L490.63 92.60L490.69 92.54L490.69 92.29L490.76 92.23L490.76 91.99L490.83 91.93L490.83 91.68L490.89 91.62L490.89 91.38L490.96 91.32L490.96 91.07L491.09 90.71L491.03 90.59L491.09 90.46L491.09 88.64L491.03 88.58L491.09 88.39L491.03 88.33L491.03 88.09L490.96 88.03L490.96 87.78L490.89 87.72L490.89 87.48L490.83 87.42L490.83 87.17L490.76 87.11L490.76 86.87L490.69 86.81L490.69 86.56L490.63 86.50L490.63 86.26L490.56 86.20L490.43 85.41L490.30 85.22L490.30 85.10L488.97 83.27L488.50 83.03L488.43 82.91L486.44 82.30L486.37 82.36L486.17 82.30L484.85 82.30L484.78 82.36L484.58 82.36ZM484.85 84.13L486.11 84.13L487.30 84.49L487.57 84.68L488.50 85.96L488.57 86.38L488.63 86.44L488.63 86.69L488.70 86.75L488.70 86.99L488.77 87.05L488.77 87.30L488.83 87.36L488.83 87.60L488.90 87.66L488.90 87.91L488.97 87.97L488.97 88.21L489.03 88.27L489.03 88.51L489.10 88.58L489.10 90.52L489.03 90.59L489.03 90.83L488.90 91.13L488.90 91.38L488.83 91.44L488.83 91.68L488.77 91.74L488.77 91.99L488.70 92.05L488.70 92.29L488.63 92.35L488.50 93.14L487.44 94.55L486.04 94.97L484.91 94.97L483.45 94.48L482.45 93.08L482.32 92.29L482.25 92.23L482.25 91.99L482.19 91.93L482.19 91.68L482.12 91.62L482.12 91.38L482.05 91.32L482.05 91.07L481.99 91.01L481.92 90.52L481.85 90.46L481.85 88.64L481.92 88.58L481.92 88.33L481.99 88.27L481.99 88.03L482.05 87.97L482.05 87.72L482.12 87.66L482.12 87.42L482.19 87.36L482.19 87.11L482.25 87.05L482.25 86.81L482.32 86.75L482.32 86.50L482.39 86.44L482.45 86.02L483.52 84.55ZM474.28 82.30L473.68 82.48L473.15 83.03L473.01 83.27L472.81 83.46L472.68 83.70L472.48 83.88L472.35 84.13L472.15 84.31L472.02 84.55L471.82 84.74L471.68 84.98L471.49 85.16L471.35 85.41L471.15 85.59L471.02 85.83L470.82 86.02L470.69 86.26L470.49 86.44L470.36 86.69L470.16 86.87L470.02 87.11L469.82 87.30L469.69 87.54L469.49 87.72L469.36 87.97L469.16 88.15L469.03 88.39L466.90 91.07L466.90 91.19L466.77 91.38L466.77 91.62L466.70 91.68L466.90 92.23L467.10 92.41L467.70 92.60L473.21 92.60L473.28 92.66L473.28 95.89L473.35 95.95L473.35 96.19L473.48 96.43L473.68 96.62L474.28 96.80L474.88 96.62L475.07 96.43L475.21 96.19L475.21 95.95L475.27 95.89L475.27 92.66L475.34 92.60L477.60 92.60L477.67 92.54L477.93 92.54L478.20 92.41L478.40 92.23L478.60 91.68L478.40 91.13L478.20 90.95L477.93 90.83L477.67 90.83L477.60 90.77L475.34 90.77L475.27 90.71L475.27 83.21L475.07 82.67L474.88 82.48ZM473.21 86.14L473.28 86.20L473.28 90.71L473.21 90.77L469.69 90.77L469.62 90.71L469.89 90.34L470.09 90.16L470.22 89.92L471.42 88.45L471.68 88.03ZM439.32 118.10L439.47 118.47L439.75 118.72L440.17 118.85L452.75 118.85L453.18 118.72L453.46 118.47L453.60 118.10L453.46 117.72L453.18 117.47L452.75 117.35L440.17 117.35L439.75 117.47L439.47 117.72ZM439.32 114.41L439.47 114.79L439.75 115.04L440.17 115.16L452.75 115.16L453.18 115.04L453.46 114.79L453.60 114.41L453.46 114.04L453.18 113.79L452.75 113.66L440.17 113.66L439.75 113.79L439.47 114.04ZM432.47 108.10L432.04 108.22L431.76 108.47L431.62 108.85L431.62 112.35L431.55 112.41L430.35 112.41L430.28 112.47L430.07 112.47L429.64 112.79L429.50 113.16L429.64 113.54L430.07 113.85L430.28 113.85L430.35 113.91L431.55 113.91L431.62 113.97L431.62 119.35L431.69 119.41L431.62 119.60L432.33 121.47L432.47 121.54L432.75 121.91L434.16 122.54L434.45 122.54L434.52 122.60L435.93 122.60L436.36 122.47L436.64 122.22L436.78 121.85L436.64 121.47L436.21 121.16L436.00 121.16L435.93 121.10L434.73 121.10L433.88 120.72L433.67 120.35L433.32 119.41L433.32 113.97L433.39 113.91L435.22 113.91L435.30 113.85L435.51 113.85L435.93 113.54L436.07 113.16L435.93 112.79L435.51 112.47L435.30 112.47L435.22 112.41L433.39 112.41L433.32 112.35L433.32 108.85L433.18 108.47L432.89 108.22ZM495.31 119.36L495.24 119.42L494.78 119.48L494.51 119.66L493.66 120.50L493.59 120.92L493.52 120.98L493.59 121.04L493.66 121.46L493.85 121.70L494.78 122.48L495.24 122.54L495.31 122.60L495.37 122.54L495.84 122.48L496.10 122.30L496.96 121.46L497.03 121.04L497.09 120.98L497.03 120.92L496.96 120.50L496.76 120.26L495.84 119.48L495.37 119.42ZM501.39 108.22L501.12 108.40L500.92 108.64L500.86 109.06L500.79 109.12L500.86 109.18L500.92 109.60L501.12 109.84L501.39 110.02L501.85 110.08L501.91 110.14L506.67 110.14L506.74 110.20L504.36 113.07L504.09 113.55L504.09 113.79L504.03 113.85L504.09 113.91L504.09 114.15L504.36 114.57L504.62 114.75L505.09 114.81L505.15 114.87L506.87 114.87L507.79 115.29L508.19 115.71L508.65 116.97L508.65 117.87L508.13 119.24L507.13 120.14L505.75 120.56L503.96 120.56L502.58 120.14L502.05 119.66L501.58 118.83L501.58 118.71L501.39 118.47L501.12 118.29L500.66 118.23L500.59 118.17L500.53 118.23L500.06 118.29L499.80 118.47L499.60 118.71L499.54 119.12L499.47 119.18L499.54 119.24L499.60 119.72L500.00 120.38L500.00 120.50L500.20 120.86L500.26 120.86L501.12 121.70L501.58 122.00L503.37 122.54L503.76 122.54L503.83 122.60L505.81 122.60L505.88 122.54L506.21 122.54L507.99 122.00L508.19 121.88L508.32 121.88L509.91 120.50L510.24 120.02L510.31 119.66L510.83 118.35L510.83 118.05L510.90 117.99L510.90 116.85L510.83 116.79L510.83 116.49L510.24 114.87L510.11 114.69L510.11 114.57L509.91 114.33L508.92 113.49L507.73 112.95L507.53 112.95L507.40 112.83L510.11 109.60L510.17 109.18L510.24 109.12L510.17 109.06L510.11 108.64L509.91 108.40L509.64 108.22L509.18 108.16L509.12 108.10L501.91 108.10L501.85 108.16ZM483.68 108.16L481.90 108.70L481.83 108.82L481.70 108.82L481.43 109.00L481.17 109.30L480.51 110.56L480.51 110.80L480.44 110.86L480.44 112.05L480.51 112.11L480.57 112.59L481.17 113.67L481.43 113.97L481.76 114.21L481.96 114.27L482.03 114.39L480.51 115.83L479.91 116.91L479.85 117.39L479.78 117.45L479.78 119.18L479.85 119.24L479.85 119.48L479.91 119.54L479.91 119.72L480.51 120.80L481.43 121.70L481.96 122.00L483.75 122.54L484.14 122.54L484.21 122.60L486.78 122.60L486.85 122.54L487.25 122.54L489.03 122.00L489.56 121.70L490.48 120.80L491.08 119.72L491.08 119.54L491.15 119.48L491.15 119.24L491.21 119.18L491.21 117.45L491.15 117.39L491.08 116.91L490.48 115.83L488.97 114.39L489.03 114.27L489.23 114.21L489.56 113.97L489.82 113.67L490.42 112.59L490.48 112.11L490.55 112.05L490.55 110.86L490.48 110.80L490.48 110.56L489.82 109.30L489.56 109.00L489.30 108.82L489.16 108.82L489.10 108.76L489.16 108.70L488.97 108.70L487.31 108.16L486.85 108.16L486.78 108.10L484.21 108.10L484.14 108.16ZM482.42 116.91L483.55 115.89L485.13 115.41L485.33 115.41L485.40 115.35L485.86 115.41L487.45 115.89L488.57 116.91L488.97 117.63L488.97 119.00L488.57 119.72L488.11 120.14L486.72 120.56L484.27 120.56L482.89 120.14L482.42 119.72L482.03 119.00L482.03 117.63ZM482.69 111.10L482.95 110.62L483.09 110.50L484.21 110.14L486.78 110.14L487.78 110.44L488.04 110.62L488.30 111.10L488.30 111.87L487.91 112.53L486.92 112.95L485.40 113.25L485.33 113.19L484.08 112.95L483.15 112.53L482.95 112.35L482.69 111.87ZM468.62 108.22L468.35 108.40L468.15 108.64L468.09 108.94L467.96 109.12L467.96 109.60L467.89 109.66L467.89 110.14L467.82 110.20L467.82 110.68L467.76 110.74L467.76 111.22L467.69 111.28L467.69 111.75L467.62 111.81L467.62 112.29L467.56 112.35L467.56 112.83L467.49 112.89L467.49 113.37L467.43 113.43L467.43 113.91L467.36 113.97L467.36 114.33L467.43 114.39L467.36 114.45L467.43 114.51L467.49 114.93L467.69 115.17L467.96 115.35L468.42 115.41L468.48 115.47L468.55 115.41L469.01 115.35L469.87 114.69L471.26 114.27L472.91 114.27L474.43 114.75L475.42 115.71L475.88 116.97L475.88 117.87L475.36 119.24L474.36 120.14L472.98 120.56L471.19 120.56L469.81 120.14L469.28 119.66L468.81 118.83L468.81 118.71L468.62 118.47L468.35 118.29L467.89 118.23L467.82 118.17L467.76 118.23L467.29 118.29L467.03 118.47L466.83 118.71L466.77 119.12L466.70 119.18L466.77 119.24L466.83 119.72L467.23 120.38L467.23 120.50L467.43 120.86L467.49 120.86L468.35 121.70L468.81 122.00L470.60 122.54L470.99 122.54L471.06 122.60L473.04 122.60L473.11 122.54L473.44 122.54L475.22 122.00L475.42 121.88L475.55 121.88L475.82 121.70L477.34 120.26L478.06 118.35L478.06 118.05L478.13 117.99L478.13 116.85L478.06 116.79L478.06 116.49L477.47 114.87L477.34 114.69L477.34 114.57L477.14 114.33L475.55 112.95L475.42 112.95L475.22 112.83L473.44 112.29L473.11 112.29L473.04 112.23L471.06 112.23L470.99 112.29L470.66 112.29L470.00 112.53L469.81 112.47L469.87 112.41L469.87 111.93L469.94 111.87L470.07 110.32L470.20 110.14L475.69 110.14L475.75 110.08L476.02 110.08L476.48 109.84L476.68 109.60L476.74 109.18L476.81 109.12L476.74 109.06L476.68 108.64L476.48 108.40L476.21 108.22L475.75 108.16L475.69 108.10L469.14 108.10L469.08 108.16ZM439.15 143.63L439.36 144.18L439.57 144.36L440.20 144.54L452.56 144.54L453.18 144.36L453.39 144.18L453.60 143.63L453.39 143.08L453.18 142.90L452.56 142.72L440.20 142.72L439.57 142.90L439.36 143.08ZM439.15 140.04L439.36 140.58L439.57 140.77L440.20 140.95L452.56 140.95L453.18 140.77L453.39 140.58L453.60 140.04L453.39 139.49L453.18 139.31L452.56 139.12L440.20 139.12L439.57 139.31L439.36 139.49ZM432.28 133.76L432.00 133.88L431.79 134.07L431.58 134.61L431.58 137.84L431.51 137.90L430.54 137.90L429.92 138.09L429.71 138.27L429.57 138.51L429.57 138.76L429.50 138.82L429.57 138.88L429.57 139.12L429.71 139.37L429.92 139.55L430.19 139.67L430.47 139.67L430.54 139.73L431.51 139.73L431.58 139.79L431.58 144.85L431.65 144.91L431.65 145.09L431.58 145.15L432.28 146.98L432.35 146.98L432.49 147.23L432.90 147.53L434.29 148.14L434.57 148.14L434.64 148.20L436.03 148.20L436.10 148.14L436.38 148.14L436.65 148.02L436.86 147.83L437.00 147.59L437.00 147.35L437.07 147.29L436.86 146.74L436.65 146.56L436.38 146.43L436.10 146.43L436.03 146.37L434.85 146.37L434.29 146.13L434.08 145.95L433.67 144.85L433.67 139.79L433.74 139.73L435.33 139.73L435.96 139.55L436.17 139.37L436.31 139.12L436.31 138.88L436.38 138.82L436.31 138.76L436.31 138.51L436.17 138.27L435.96 138.09L435.68 137.96L435.40 137.96L435.33 137.90L433.74 137.90L433.67 137.84L433.67 134.61L433.60 134.55L433.60 134.31L433.46 134.07L433.25 133.88L432.97 133.76L432.69 133.76L432.63 133.70L432.56 133.76ZM495.29 144.87L495.22 144.93L494.76 144.99L494.56 145.11L493.71 145.88L493.58 146.06L493.51 146.48L493.44 146.54L493.51 146.60L493.58 147.01L493.71 147.19L494.56 147.96L494.76 148.08L495.22 148.14L495.29 148.20L495.35 148.14L495.82 148.08L495.95 147.96L496.14 147.90L496.80 147.31L496.87 147.13L497.00 147.01L497.07 146.60L497.13 146.54L497.07 146.48L497.00 146.06L496.87 145.94L496.80 145.76L496.14 145.17L495.95 145.11L495.82 144.99L495.35 144.93ZM503.32 133.76L501.55 134.29L501.15 134.53L500.69 135.01L500.16 135.96L500.10 136.43L500.03 136.49L500.03 137.68L500.10 137.74L500.16 138.22L500.76 139.29L500.95 139.52L501.48 139.88L501.55 140.00L500.36 141.07L500.29 141.25L500.10 141.43L499.50 142.50L499.44 142.97L499.37 143.03L499.37 144.75L499.44 144.81L499.44 145.05L499.50 145.11L499.50 145.29L500.10 146.36L500.29 146.54L500.36 146.71L501.02 147.31L501.61 147.61L503.39 148.14L503.72 148.14L503.79 148.20L506.42 148.20L506.49 148.14L506.88 148.14L508.66 147.61L508.79 147.49L508.92 147.49L509.06 147.37L509.25 147.31L510.11 146.42L510.83 145.05L510.83 144.81L510.90 144.75L510.90 143.03L510.83 142.97L510.77 142.55L510.11 141.37L509.85 141.01L508.73 140.00L508.79 139.88L509.32 139.52L510.11 138.16L510.18 137.74L510.24 137.68L510.24 136.49L510.18 136.43L510.18 136.20L509.65 135.19L509.32 134.71L508.92 134.41L508.79 134.41L508.73 134.29L506.95 133.76L506.49 133.76L506.42 133.70L503.79 133.70L503.72 133.76ZM502.14 142.50L503.19 141.54L504.77 141.07L504.97 141.07L505.04 141.01L505.43 141.07L507.01 141.54L508.13 142.55L508.53 143.27L508.53 144.52L508.13 145.23L507.67 145.64L506.29 146.06L503.92 146.06L502.53 145.64L502.14 145.29L501.74 144.57L501.74 143.21ZM502.40 136.73L502.73 136.20L503.85 135.84L506.35 135.84L507.34 136.14L507.61 136.31L507.87 136.79L507.87 137.44L507.47 138.10L506.49 138.51L506.29 138.51L506.22 138.57L506.03 138.57L505.96 138.63L505.04 138.81L504.97 138.75L503.72 138.51L502.86 138.16L502.67 137.98L502.40 137.50ZM485.54 133.70L485.47 133.76L485.01 133.76L483.23 134.29L482.84 134.53L482.44 134.89L481.19 136.61L481.19 136.73L481.06 136.91L480.86 138.04L480.73 138.34L480.73 138.57L480.66 138.63L480.66 138.87L480.60 138.93L480.60 139.17L480.53 139.23L480.53 139.46L480.40 139.82L480.47 139.88L480.40 140.06L480.40 143.03L480.47 143.09L480.47 143.45L480.53 143.51L480.53 143.68L480.60 143.74L480.60 143.92L480.66 143.98L480.66 144.16L480.73 144.22L481.06 145.59L481.19 145.70L481.19 145.82L481.32 145.94L481.39 146.12L482.71 147.31L483.30 147.61L485.08 148.14L486.20 148.20L486.26 148.14L486.59 148.14L488.64 147.49L488.77 147.37L488.96 147.31L490.28 146.12L490.35 145.94L490.61 145.64L490.81 145.11L490.81 144.93L491.20 143.98L491.27 143.03L491.20 142.97L491.20 142.55L490.61 140.95L490.35 140.65L490.28 140.47L488.96 139.29L488.77 139.23L488.64 139.11L486.59 138.45L486.26 138.45L486.20 138.39L485.08 138.45L483.30 138.99L483.10 139.11L483.04 139.05L483.37 137.50L484.16 136.43L484.42 136.20L485.61 135.84L486.79 135.84L487.91 136.20L488.31 136.91L488.70 137.32L489.10 137.50L489.36 137.50L489.43 137.56L489.49 137.50L489.95 137.44L490.15 137.32L490.48 136.97L490.55 136.55L490.61 136.49L490.55 136.43L490.48 135.96L489.89 134.95L489.49 134.53L489.10 134.29L487.32 133.76L486.86 133.76L486.79 133.70ZM485.67 140.53L486.07 140.53L487.45 140.95L488.44 141.90L488.90 143.09L488.90 143.51L488.44 144.75L487.45 145.64L486.07 146.06L485.67 146.06L484.16 145.59L483.30 144.81L483.30 144.63L483.23 144.57L483.23 144.40L483.17 144.34L483.17 144.16L483.10 144.10L483.10 143.92L483.04 143.86L483.04 143.68L482.84 143.15L482.84 142.91L483.23 141.90L484.29 140.95ZM472.43 133.70L471.31 133.76L469.53 134.29L469.20 134.53L469.01 134.59L467.49 136.02L467.49 136.14L467.36 136.26L466.77 137.86L466.77 138.22L466.70 138.28L466.77 139.35L467.36 140.95L467.62 141.25L467.69 141.43L468.94 142.55L469.33 142.79L471.44 143.45L471.71 143.45L471.77 143.51L472.83 143.45L474.87 142.79L474.93 142.85L474.60 144.34L473.68 145.59L473.55 145.70L472.36 146.06L471.25 146.06L470.06 145.70L469.47 144.69L469.27 144.52L468.87 144.34L468.61 144.34L468.54 144.28L468.48 144.34L468.02 144.40L467.82 144.52L467.49 144.87L467.42 145.29L467.36 145.35L467.42 145.41L467.49 145.88L468.08 146.95L468.48 147.37L468.94 147.61L470.72 148.14L471.05 148.14L471.11 148.20L472.43 148.20L472.50 148.14L472.89 148.14L474.67 147.61L475.13 147.37L475.46 147.07L476.71 145.35L476.78 145.11L476.91 144.93L476.91 144.69L476.98 144.63L476.98 144.40L477.04 144.34L477.04 144.10L477.11 144.04L477.11 143.80L477.17 143.74L477.17 143.51L477.24 143.45L477.24 143.21L477.31 143.15L477.31 142.91L477.37 142.85L477.37 142.61L477.50 142.26L477.50 141.90L477.57 141.84L477.57 138.87L477.50 138.81L477.50 138.45L477.44 138.39L477.44 138.22L477.37 138.16L477.37 137.98L477.31 137.92L477.31 137.74L477.24 137.68L477.24 137.50L477.17 137.44L477.17 137.27L477.11 137.21L477.11 137.03L477.04 136.97L477.04 136.79L476.98 136.73L476.98 136.55L476.78 136.02L475.26 134.59L475.07 134.53L474.74 134.29L472.96 133.76L472.50 133.76ZM471.84 135.84L472.36 135.84L473.75 136.26L474.67 137.09L474.67 137.27L474.74 137.32L474.74 137.50L474.80 137.56L474.80 137.74L474.87 137.80L474.87 137.98L474.93 138.04L474.93 138.22L475.13 138.75L474.67 140.06L473.68 140.95L472.30 141.37L471.97 141.37L470.45 140.89L469.60 140.12L469.07 138.75L469.07 138.34L469.53 137.09L470.45 136.26Z" fill="#000" fill-rule="evenodd"/>
</svg>
</body></html>
